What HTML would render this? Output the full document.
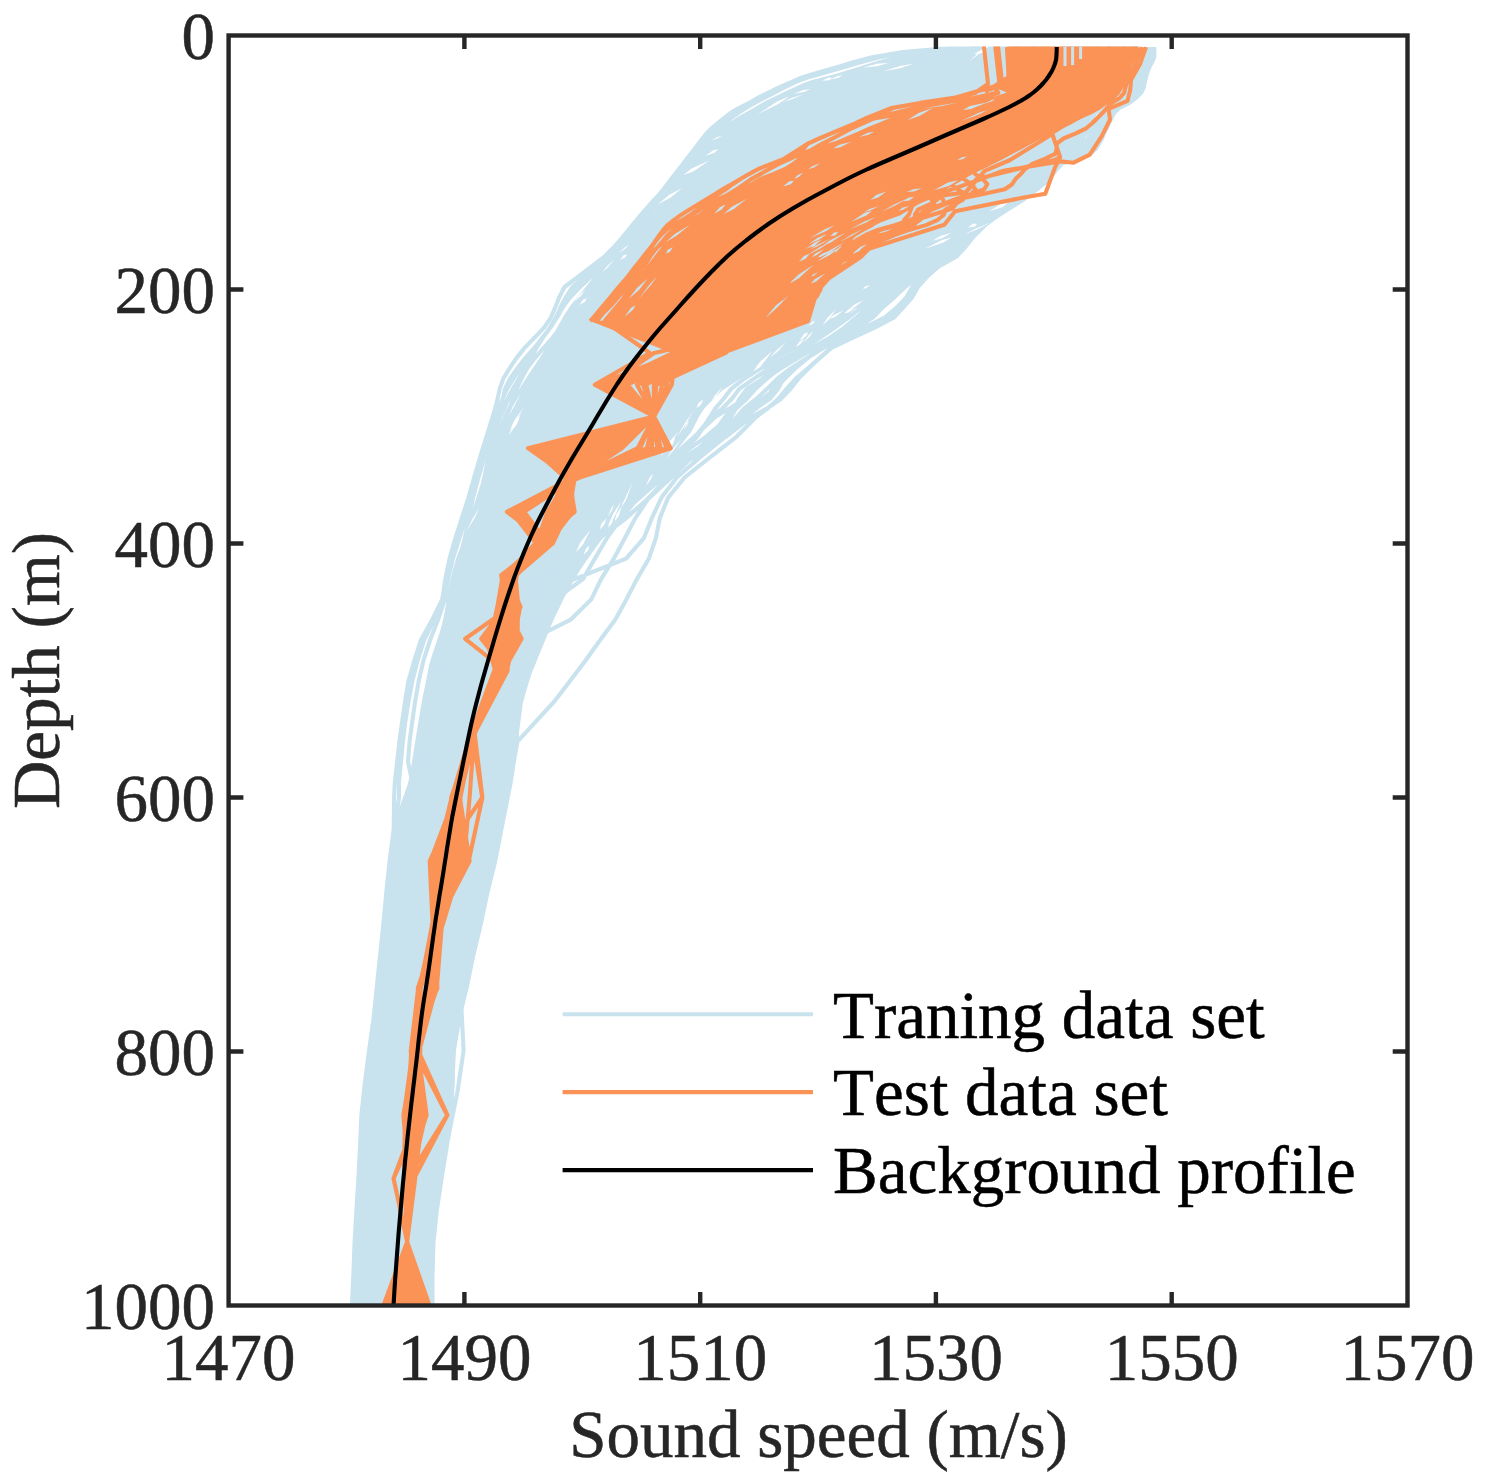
<!DOCTYPE html>
<html><head><meta charset="utf-8"><title>Sound speed profiles</title>
<style>
html,body{margin:0;padding:0;background:#fff;}
body{width:1485px;height:1483px;overflow:hidden;font-family:"Liberation Serif",serif;}
svg{display:block}
text{font-family:"Liberation Serif",serif;font-size:67px;fill:#262626;font-kerning:none;stroke:#262626;stroke-width:0.5px;}
.lg text{fill:#000;stroke:#000}
</style></head><body>
<svg width="1485" height="1483" viewBox="0 0 1485 1483">
<rect width="1485" height="1483" fill="#fff"/>
<defs><clipPath id="c"><rect x="228.6" y="46.6" width="1178.9" height="1258.9"/></clipPath></defs>
<g fill="none" stroke-linejoin="round" stroke-linecap="butt" clip-path="url(#c)">
<path d="M975.0,45.0 970.9,47.0 946.2,50.0 921.5,53.0 900.0,56.0 885.0,59.0 873.8,62.0 864.4,65.0 855.0,68.0 845.1,71.0 835.3,74.0 824.0,77.0 812.0,80.0 803.6,83.0 797.1,86.0 790.5,89.0 784.0,92.0 778.2,95.0 772.5,98.0 766.8,101.0 761.0,104.0 756.1,107.0 751.1,110.0 746.2,113.0 741.3,116.0 736.8,119.0 733.2,122.0 729.5,125.0 725.9,128.0 722.3,131.0 718.6,134.0 715.0,137.0 712.5,140.0 710.1,143.0 707.6,146.0 705.1,149.0 702.7,152.0 700.2,155.0 697.8,158.0 695.3,161.0 692.8,164.0 690.5,167.0 688.2,170.0 685.9,173.0 683.6,176.0 681.3,179.0 679.0,182.0 676.7,185.0 674.4,188.0 672.1,191.0 669.8,194.0 667.2,197.0 664.5,200.0 661.8,203.0 659.1,206.0 656.4,209.0 653.7,212.0 651.0,215.0 648.5,218.0 646.0,221.0 643.6,224.0 641.1,227.0 638.6,230.0 636.1,233.0 633.7,236.0 631.2,239.0 628.7,242.0 626.2,245.0 623.8,248.0 621.3,251.0 618.8,254.0 615.8,257.0 612.6,260.0 609.3,263.0 606.0,266.0 602.8,269.0 599.5,272.0 596.3,275.0 593.0,278.0 590.6,281.0 588.1,284.0 585.7,287.0 583.2,290.0 580.8,293.0 578.3,296.0 575.9,299.0 573.4,302.0 571.0,305.0 569.2,308.0 567.5,311.0 565.7,314.0 564.0,317.0 562.2,320.0 560.5,323.0 558.7,326.0 557.0,329.0 555.2,332.0 553.4,335.0 551.7,338.0 549.9,341.0 548.2,344.0 546.5,347.0 544.8,350.0 543.1,353.0 541.4,356.0 539.7,359.0 538.1,362.0 536.4,365.0 534.7,368.0 533.0,371.0 531.4,374.0 529.7,377.0 528.0,380.0 526.4,383.0 524.8,386.0 523.2,389.0 521.6,392.0 520.1,395.0 518.5,398.0 517.4,400.0 513.2,408.0 508.9,416.0 504.7,424.0 500.7,432.0 498.0,440.0 495.3,448.0 492.6,456.0 489.9,464.0 487.2,472.0 484.5,480.0 481.9,488.0 479.2,496.0 476.6,504.0 473.9,512.0 471.3,520.0 468.6,528.0 465.7,536.0 462.6,544.0 459.5,552.0 456.4,560.0 453.5,568.0 452.0,576.0 450.4,584.0 448.9,592.0 447.4,600.0 445.7,608.0 443.9,616.0 442.1,624.0 439.9,632.0 437.2,640.0 434.5,648.0 431.8,656.0 429.4,664.0 427.8,672.0 426.2,680.0 424.6,688.0 422.9,696.0 421.4,704.0 420.1,712.0 418.7,720.0 417.4,728.0 416.1,736.0 414.8,744.0 413.5,752.0 412.3,760.0 411.0,768.0 409.7,776.0 407.8,784.0 405.0,792.0 402.1,800.0 399.3,808.0 396.4,816.0 394.5,824.0 393.5,832.0 392.5,840.0 391.5,848.0 390.5,856.0 389.6,864.0 388.8,872.0 388.1,880.0 387.3,888.0 386.5,896.0 385.8,904.0 385.0,912.0 384.2,920.0 383.4,928.0 382.6,936.0 381.8,944.0 381.0,952.0 380.1,960.0 379.3,968.0 378.5,976.0 377.7,984.0 376.9,992.0 376.0,1000.0 375.2,1008.0 374.4,1016.0 373.3,1024.0 372.3,1032.0 371.3,1040.0 370.2,1048.0 369.2,1056.0 368.1,1064.0 367.1,1072.0 366.1,1080.0 365.0,1088.0 364.0,1096.0 362.9,1104.0 362.0,1112.0 361.5,1120.0 361.1,1128.0 360.7,1136.0 360.3,1144.0 359.8,1152.0 359.4,1160.0 359.0,1168.0 358.6,1176.0 358.2,1184.0 357.7,1192.0 357.3,1200.0 356.9,1208.0 356.5,1216.0 356.0,1224.0 355.6,1232.0 355.3,1240.0 355.0,1248.0 354.6,1256.0 354.3,1264.0 354.0,1272.0 353.6,1280.0 353.3,1288.0 353.0,1296.0 352.7,1304.0 352.6,1305.4 431.5,1305.4 431.5,1304.0 431.5,1296.0 431.5,1288.0 431.5,1280.0 431.5,1272.0 431.5,1264.0 431.5,1256.0 432.0,1248.0 432.8,1240.0 433.6,1232.0 434.3,1224.0 435.1,1216.0 436.1,1208.0 437.4,1200.0 438.6,1192.0 439.8,1184.0 441.0,1176.0 442.4,1168.0 444.0,1160.0 445.6,1152.0 447.2,1144.0 448.8,1136.0 450.0,1128.0 450.9,1120.0 451.7,1112.0 452.5,1104.0 453.3,1096.0 453.9,1088.0 454.3,1080.0 454.7,1072.0 455.1,1064.0 455.5,1056.0 456.1,1048.0 457.2,1040.0 458.2,1032.0 459.3,1024.0 460.4,1016.0 461.8,1008.0 463.3,1000.0 464.8,992.0 466.2,984.0 467.6,976.0 469.1,968.0 470.8,960.0 473.2,952.0 475.6,944.0 477.3,936.0 478.9,928.0 480.5,920.0 482.0,912.0 483.6,904.0 485.5,896.0 487.5,888.0 489.5,880.0 491.4,872.0 493.4,864.0 495.1,856.0 496.7,848.0 498.3,840.0 499.9,832.0 501.4,824.0 503.0,816.0 504.6,808.0 506.2,800.0 507.8,792.0 509.3,784.0 510.9,776.0 512.5,768.0 514.1,760.0 515.6,752.0 517.2,744.0 518.5,736.0 519.6,728.0 520.6,720.0 521.7,712.0 522.7,704.0 524.8,696.0 527.1,688.0 529.5,680.0 532.2,672.0 535.5,664.0 538.7,656.0 542.0,648.0 545.3,640.0 548.5,632.0 551.8,624.0 555.4,616.0 559.3,608.0 563.1,600.0 567.2,592.0 571.9,584.0 576.7,576.0 581.4,568.0 587.0,560.0 592.7,552.0 598.4,544.0 604.5,536.0 611.1,528.0 617.8,520.0 624.4,512.0 631.0,504.0 637.8,496.0 644.8,488.0 651.8,480.0 658.8,472.0 665.8,464.0 672.1,456.0 678.5,448.0 684.9,440.0 691.2,432.0 695.4,424.0 699.4,416.0 704.7,408.0 712.6,400.0 714.6,398.0 717.5,395.0 720.5,392.0 724.4,389.0 729.2,386.0 733.9,383.0 738.7,380.0 743.5,377.0 748.3,374.0 753.1,371.0 757.8,368.0 764.2,365.0 770.6,362.0 776.9,359.0 783.3,356.0 789.7,353.0 796.1,350.0 802.0,347.0 806.0,344.0 810.1,341.0 814.2,338.0 818.3,335.0 822.4,332.0 826.5,329.0 830.6,326.0 834.4,323.0 838.1,320.0 841.8,317.0 845.5,314.0 849.2,311.0 852.9,308.0 856.7,305.0 860.4,302.0 864.7,299.0 869.4,296.0 874.0,293.0 878.7,290.0 883.4,287.0 888.0,284.0 892.7,281.0 897.3,278.0 902.0,275.0 907.9,272.0 913.9,269.0 919.8,266.0 925.2,263.0 930.2,260.0 935.3,257.0 940.3,254.0 945.3,251.0 950.3,248.0 955.0,245.0 959.5,242.0 964.0,239.0 968.5,236.0 973.0,233.0 977.5,230.0 982.0,227.0 986.2,224.0 990.4,221.0 994.5,218.0 998.6,215.0 1002.9,212.0 1007.1,209.0 1011.4,206.0 1015.7,203.0 1020.0,200.0 1024.1,197.0 1028.3,194.0 1032.4,191.0 1036.6,188.0 1040.7,185.0 1044.9,182.0 1049.0,179.0 1050.9,176.0 1052.9,173.0 1054.8,170.0 1056.7,167.0 1059.2,164.0 1062.8,161.0 1066.4,158.0 1070.0,155.0 1072.4,152.0 1074.7,149.0 1077.1,146.0 1079.5,143.0 1081.8,140.0 1084.2,137.0 1086.1,134.0 1087.7,131.0 1089.3,128.0 1091.0,125.0 1092.6,122.0 1094.2,119.0 1095.8,116.0 1097.5,113.0 1100.8,110.0 1105.1,107.0 1109.3,104.0 1113.6,101.0 1116.6,98.0 1119.1,95.0 1121.5,92.0 1123.9,89.0 1126.4,86.0 1128.4,83.0 1129.7,80.0 1131.0,77.0 1132.3,74.0 1133.6,71.0 1135.1,68.0 1136.6,65.0 1138.2,62.0 1139.8,59.0 1140.0,56.0 1140.0,53.0 1140.0,50.0 1140.0,47.0 1140.0,45.0Z" fill="#c8e2ee"/>
<path d="M979.6,47.1 948.4,52.1 909.9,57.2 886.4,62.3 871.1,67.4 855.8,72.5 836.3,77.5 815.3,82.6 803.2,87.7 790.9,92.8 780.8,97.9 769.9,102.9 760.3,108.0 750.2,113.1 739.6,118.2 732.2,123.3 725.5,128.3 719.4,133.4 713.9,138.5 709.5,143.6 704.9,148.7 700.2,153.7 695.7,158.8 691.4,163.9 687.2,169.0 682.4,174.1 677.7,179.1 673.8,184.2 669.9,189.3 665.4,194.4 660.8,199.5 656.9,204.5 653.1,209.6 649.1,214.7 645.1,219.8 640.7,224.9 640.0,226.0 632.3,236.2 624.6,246.3 616.4,256.5 606.2,266.6 596.6,276.8 589.8,287.0 580.7,297.1 571.6,307.3 565.2,317.4 559.5,327.6 554.0,337.8 548.5,347.9 542.1,358.1 535.1,368.2 528.4,378.4 521.9,388.6 515.1,398.7 508.9,408.9 505.2,416.5 497.1,436.8 491.2,457.1 484.9,477.5 478.4,497.8 472.1,518.1 465.8,538.4 458.1,558.7 452.7,579.1 448.9,599.4 447.1,619.7 444.6,640.0 438.0,660.3 435.2,680.7 431.0,701.0 427.5,721.3 424.0,741.6 420.9,761.9 416.6,782.3 408.4,797.5 394.6,829.2 389.6,861.0 386.3,892.8 383.3,924.5 380.0,956.2 376.7,988.0 373.4,1019.8 368.9,1051.5 364.8,1083.2 361.4,1115.0 360.0,1146.8 358.4,1178.5 356.4,1210.2 354.6,1242.0 353.4,1273.8 351.9,1305.5 M972.2,47.1 934.0,52.1 900.0,57.2 879.8,62.3 866.2,67.4 852.4,72.5 834.2,77.5 813.7,82.6 801.6,87.7 788.6,92.8 777.0,97.9 766.2,102.9 757.5,108.0 748.6,113.1 739.1,118.2 731.9,123.3 724.0,128.3 715.9,133.4 710.0,138.5 706.3,143.6 702.8,148.7 698.6,153.7 693.8,158.8 688.8,163.9 684.5,169.0 681.3,174.1 678.5,179.1 675.1,184.2 671.0,189.3 667.0,194.4 662.6,199.5 658.0,204.5 653.1,209.6 647.9,214.7 643.4,219.8 639.6,224.9 639.3,226.0 631.3,236.2 623.1,246.3 614.2,256.5 602.9,266.6 591.3,276.8 580.1,287.0 570.4,297.1 562.7,307.3 556.8,317.4 550.3,327.6 542.8,337.8 534.3,347.9 525.3,358.1 517.4,368.2 510.1,378.4 505.1,388.6 502.8,398.7 500.7,408.9 498.0,416.5 490.4,436.8 484.4,457.1 478.5,477.5 473.1,497.8 468.7,518.1 464.7,538.4 459.4,558.7 454.3,579.1 450.1,599.4 448.1,619.7 445.4,640.0 439.8,660.3 436.6,680.7 432.0,701.0 428.3,721.3 424.6,741.6 420.9,761.9 416.6,782.3 408.4,797.5 394.6,829.2 389.6,861.0 386.3,892.8 383.3,924.5 380.0,956.2 376.7,988.0 373.4,1019.8 368.9,1051.5 364.8,1083.2 361.4,1115.0 360.0,1146.8 358.4,1178.5 356.4,1210.2 354.6,1242.0 353.4,1273.8 351.9,1305.5 M978.7,47.1 948.4,52.1 909.9,57.2 886.4,62.3 871.1,67.4 855.8,72.5 836.3,77.5 815.3,82.6 803.1,87.7 790.3,92.8 779.0,97.9 766.9,102.9 757.4,108.0 749.0,113.1 740.5,118.2 733.8,123.3 726.2,128.3 718.4,133.4 711.8,138.5 707.2,143.6 703.1,148.7 699.3,153.7 695.4,158.8 691.4,163.9 687.8,169.0 684.7,174.1 681.8,179.1 679.1,184.2 676.2,189.3 673.4,194.4 669.3,199.5 664.5,204.5 659.8,209.6 655.6,214.7 651.8,219.8 647.7,224.9 646.7,226.0 638.5,236.2 630.0,246.3 620.8,256.5 609.2,266.6 598.3,276.8 591.0,287.0 582.0,297.1 573.6,307.3 567.3,317.4 560.5,327.6 552.6,337.8 543.7,347.9 534.9,358.1 527.2,368.2 520.0,378.4 513.7,388.6 508.6,398.7 504.1,408.9 500.4,416.5 493.2,436.8 488.4,457.1 484.3,477.5 479.8,497.8 474.7,518.1 468.9,538.4 461.3,558.7 455.0,579.1 450.7,599.4 449.7,619.7 447.3,640.0 440.1,660.3 436.6,680.7 432.0,701.0 428.3,721.3 424.6,741.6 420.9,761.9 416.6,782.3 408.4,797.5 394.6,829.2 389.6,861.0 386.3,892.8 383.3,924.5 380.0,956.2 376.7,988.0 373.4,1019.8 368.9,1051.5 364.8,1083.2 361.4,1115.0 360.0,1146.8 358.4,1178.5 356.4,1210.2 354.6,1242.0 353.4,1273.8 351.9,1305.5 M960.1,47.1 904.1,52.1 873.9,57.2 857.3,62.3 842.5,67.4 825.3,72.5 807.4,77.5 793.0,82.6 781.2,87.7 770.5,92.8 759.7,97.9 749.2,102.9 738.9,108.0 730.3,113.1 724.0,118.2 717.6,123.3 711.3,128.3 706.4,133.4 702.5,138.5 698.6,143.6 694.7,148.7 690.8,153.7 686.8,158.8 682.9,163.9 679.0,169.0 675.1,174.1 671.2,179.1 667.3,184.2 663.4,189.3 659.2,194.4 654.6,199.5 650.1,204.5 646.3,209.6 642.6,214.7 639.0,219.8 635.4,224.9 634.8,226.0 626.3,236.2 617.3,246.3 607.5,256.5 596.0,266.6 584.2,276.8 572.4,287.0 565.8,297.1 560.6,307.3 556.0,317.4 549.9,327.6 542.8,337.8 536.4,347.9 531.5,358.1 527.2,368.2 521.7,378.4 516.8,388.6 513.0,398.7 509.6,408.9 506.6,416.5 498.0,436.8 491.3,457.1 485.0,477.5 479.0,497.8 472.9,518.1 466.1,538.4 458.3,558.7 452.9,579.1 448.8,599.4 445.8,619.7 440.5,640.0 433.4,660.3 430.0,680.7 426.4,701.0 423.5,721.3 419.9,741.6 416.3,761.9 413.3,782.3 407.0,797.5 394.5,829.2 389.7,861.0 386.4,892.8 383.3,924.5 380.0,956.2 376.8,988.0 373.5,1019.8 369.2,1051.5 365.1,1083.2 361.5,1115.0 360.0,1146.8 358.4,1178.5 356.5,1210.2 354.9,1242.0 353.6,1273.8 352.1,1305.5 M961.3,47.1 908.2,52.1 876.7,57.2 858.0,62.3 841.5,67.4 823.6,72.5 806.8,77.5 794.1,82.6 784.0,87.7 774.0,92.8 764.2,97.9 754.8,102.9 745.9,108.0 738.0,113.1 731.2,118.2 725.3,123.3 719.2,128.3 713.5,133.4 708.6,138.5 704.3,143.6 700.2,148.7 696.5,153.7 692.8,158.8 688.9,163.9 685.0,169.0 681.0,174.1 677.0,179.1 673.0,184.2 669.3,189.3 665.6,194.4 661.0,199.5 656.3,204.5 651.8,209.6 647.4,214.7 643.2,219.8 638.8,224.9 637.3,226.0 628.4,236.2 620.2,246.3 611.3,256.5 599.6,266.6 587.3,276.8 576.2,287.0 569.2,297.1 562.8,307.3 557.1,317.4 550.4,327.6 542.5,337.8 534.8,347.9 527.6,358.1 520.8,368.2 513.4,378.4 507.2,388.6 502.6,398.7 498.4,408.9 495.5,416.5 489.2,436.8 483.4,457.1 477.4,477.5 471.6,497.8 465.5,518.1 459.3,538.4 452.9,558.7 448.2,579.1 444.9,599.4 438.1,619.7 430.1,640.0 423.5,660.3 418.8,680.7 415.2,701.0 412.3,721.3 409.6,741.6 408.0,761.9 412.3,782.3 408.4,797.5 394.6,829.2 389.6,861.0 386.3,892.8 383.3,924.5 380.0,956.2 376.7,988.0 373.4,1019.8 369.0,1051.5 364.9,1083.2 361.4,1115.0 360.0,1146.8 358.4,1178.5 356.5,1210.2 354.7,1242.0 353.5,1273.8 352.0,1305.5 M961.5,47.1 909.9,52.1 879.5,57.2 860.6,62.3 843.6,67.4 825.3,72.5 807.5,77.5 793.4,82.6 782.3,87.7 772.4,92.8 762.9,97.9 753.3,102.9 743.8,108.0 734.6,113.1 726.8,118.2 719.8,123.3 713.4,128.3 708.0,133.4 703.7,138.5 699.9,143.6 696.3,148.7 692.4,153.7 688.5,158.8 684.7,163.9 681.1,169.0 677.5,174.1 673.8,179.1 669.9,184.2 666.1,189.3 662.1,194.4 657.6,199.5 652.9,204.5 648.2,209.6 644.1,214.7 640.3,219.8 636.4,224.9 635.7,226.0 627.2,236.2 618.8,246.3 609.4,256.5 597.7,266.6 586.2,276.8 575.4,287.0 568.2,297.1 562.0,307.3 556.8,317.4 550.3,327.6 542.3,337.8 534.8,347.9 529.2,358.1 524.7,368.2 519.0,378.4 513.0,388.6 507.6,398.7 502.8,408.9 499.2,416.5 491.1,436.8 484.4,457.1 478.1,477.5 472.1,497.8 465.4,518.1 458.5,538.4 451.8,558.7 446.9,579.1 443.4,599.4 434.3,619.7 424.1,640.0 417.7,660.3 412.4,680.7 408.6,701.0 405.4,721.3 402.9,741.6 401.0,761.9 398.9,782.3 399.0,797.5 394.6,829.2 389.6,861.0 386.3,892.8 383.3,924.5 380.0,956.2 376.7,988.0 373.4,1019.8 368.9,1051.5 364.8,1083.2 361.4,1115.0 360.0,1146.8 358.4,1178.5 356.4,1210.2 354.6,1242.0 353.4,1273.8 351.9,1305.5 M959.5,47.1 903.0,52.1 872.0,57.2 853.3,62.3 836.2,67.4 818.2,72.5 802.0,77.5 790.0,82.6 778.7,87.7 767.9,92.8 757.6,97.9 749.1,102.9 740.8,108.0 733.2,113.1 726.6,118.2 720.2,123.3 713.6,128.3 708.2,133.4 704.0,138.5 700.3,143.6 696.4,148.7 692.2,153.7 687.7,158.8 683.2,163.9 679.0,169.0 675.1,174.1 671.3,179.1 667.6,184.2 663.7,189.3 659.3,194.4 654.6,199.5 650.0,204.5 645.5,209.6 641.1,214.7 636.8,219.8 632.6,224.9 631.7,226.0 623.2,236.2 614.7,246.3 604.5,256.5 591.4,266.6 577.9,276.8 564.5,287.0 559.3,297.1 555.3,307.3 551.0,317.4 544.1,327.6 534.3,337.8 524.6,347.9 516.4,358.1 509.7,368.2 503.4,378.4 499.8,388.6 497.6,398.7 495.0,408.9 492.7,416.5 486.4,436.8 480.1,457.1 474.1,477.5 468.4,497.8 461.8,518.1 455.3,538.4 449.5,558.7 445.3,579.1 442.3,599.4 432.2,619.7 420.9,640.0 414.4,660.3 408.5,680.7 405.1,701.0 402.2,721.3 399.4,741.6 397.1,761.9 394.8,782.3 394.1,797.5 393.7,829.2 389.6,861.0 386.3,892.8 383.3,924.5 380.0,956.2 376.7,988.0 373.4,1019.8 368.9,1051.5 364.8,1083.2 361.4,1115.0 360.0,1146.8 358.4,1178.5 356.4,1210.2 354.6,1242.0 353.4,1273.8 351.9,1305.5 M1138.7,47.1 1138.2,52.1 1137.9,57.2 1136.0,62.3 1133.2,67.4 1130.4,72.5 1127.9,77.5 1125.2,82.6 1120.2,87.7 1115.4,92.8 1112.0,97.9 1106.7,102.9 1100.4,108.0 1094.3,113.1 1091.4,118.2 1087.5,123.3 1083.5,128.3 1080.7,133.4 1077.5,138.5 1072.4,143.6 1066.7,148.7 1062.6,153.7 1061.4,158.8 1058.4,163.9 1054.8,169.0 1051.9,174.1 1048.9,179.1 1041.4,184.2 1034.4,189.3 1027.4,194.4 1020.5,199.5 1013.4,204.5 1006.2,209.6 999.0,214.7 992.1,219.8 985.0,224.9 983.5,226.0 968.7,236.2 953.0,246.3 935.4,256.5 919.3,266.6 902.3,276.8 887.5,287.0 870.9,297.1 853.9,307.3 838.4,317.4 825.2,327.6 813.9,337.8 803.1,347.9 786.3,358.1 769.7,368.2 754.4,378.4 739.7,388.6 731.9,398.7 722.0,408.9 711.9,416.5 694.8,436.8 676.7,457.1 655.6,477.5 626.7,497.8 594.1,518.1 569.5,538.4 550.7,558.7 536.9,579.1 523.8,599.4 513.2,619.7 507.9,640.0 502.8,660.3 499.9,680.7 500.9,701.0 509.6,721.3 516.7,741.6 513.8,761.9 510.7,782.3 507.7,797.5 501.4,829.2 495.2,861.0 487.4,892.8 480.7,924.5 473.1,956.2 466.6,988.0 458.5,1019.8 451.0,1051.5 451.3,1083.2 450.3,1115.0 446.7,1146.8 441.6,1178.5 436.8,1210.2 433.5,1242.0 432.5,1273.8 432.5,1305.5 M1142.0,47.1 1142.0,52.1 1141.7,57.2 1139.0,62.3 1135.5,67.4 1132.6,72.5 1130.4,77.5 1128.6,82.6 1124.3,87.7 1118.3,92.8 1113.6,97.9 1108.1,102.9 1101.3,108.0 1094.6,113.1 1091.7,118.2 1089.5,123.3 1087.8,128.3 1085.8,133.4 1082.9,138.5 1079.2,143.6 1075.3,148.7 1072.0,153.7 1066.9,158.8 1059.9,163.9 1056.0,169.0 1052.5,174.1 1048.7,179.1 1042.5,184.2 1035.6,189.3 1029.0,194.4 1022.1,199.5 1014.5,204.5 1006.7,209.6 999.2,214.7 992.0,219.8 985.3,224.9 983.7,226.0 970.3,236.2 957.8,246.3 944.5,256.5 926.9,266.6 911.1,276.8 898.9,287.0 887.0,297.1 872.8,307.3 859.7,317.4 845.3,327.6 829.7,337.8 811.9,347.9 791.5,358.1 773.6,368.2 762.4,378.4 753.1,388.6 744.2,398.7 729.0,408.9 715.7,416.5 694.2,436.8 672.1,457.1 653.2,477.5 634.8,497.8 614.2,518.1 584.5,538.4 554.1,558.7 536.9,579.1 523.8,599.4 513.2,619.7 507.9,640.0 502.8,660.3 501.4,680.7 502.6,701.0 510.7,721.3 516.8,741.6 513.8,761.9 510.6,782.3 507.7,797.5 501.4,829.2 495.2,861.0 487.4,892.8 480.6,924.5 473.0,956.2 466.5,988.0 458.6,1019.8 451.5,1051.5 451.9,1083.2 450.6,1115.0 446.7,1146.8 441.6,1178.5 436.7,1210.2 433.2,1242.0 431.9,1273.8 431.9,1305.5 M1146.0,47.1 1145.9,52.1 1146.3,57.2 1144.4,62.3 1141.3,67.4 1138.5,72.5 1136.4,77.5 1135.0,82.6 1133.0,87.7 1129.6,92.8 1124.8,97.9 1118.6,102.9 1109.3,108.0 1101.7,113.1 1097.2,118.2 1092.9,123.3 1089.3,128.3 1086.1,133.4 1082.3,138.5 1077.2,143.6 1072.0,148.7 1067.9,153.7 1064.2,158.8 1059.2,163.9 1055.5,169.0 1052.2,174.1 1048.8,179.1 1041.6,184.2 1034.6,189.3 1027.7,194.4 1021.0,199.5 1013.9,204.5 1006.6,209.6 999.2,214.7 992.0,219.8 985.3,224.9 983.8,226.0 970.5,236.2 958.3,246.3 944.5,256.5 925.7,266.6 907.5,276.8 893.0,287.0 882.6,297.1 875.7,307.3 867.8,317.4 850.3,327.6 831.2,337.8 813.1,347.9 794.0,358.1 776.6,368.2 764.7,378.4 755.1,388.6 745.9,398.7 732.8,408.9 725.6,416.5 710.9,436.8 690.1,457.1 669.1,477.5 648.7,497.8 626.5,518.1 599.2,538.4 569.0,558.7 548.1,579.1 540.9,599.4 535.3,619.7 526.3,640.0 513.8,660.3 504.5,680.7 502.5,701.0 510.2,721.3 516.8,741.6 513.8,761.9 510.6,782.3 507.7,797.5 501.4,829.2 495.2,861.0 487.4,892.8 480.7,924.5 473.1,956.2 466.5,988.0 458.5,1019.8 451.0,1051.5 451.6,1083.2 450.7,1115.0 446.7,1146.8 441.2,1178.5 436.5,1210.2 433.2,1242.0 432.1,1273.8 432.0,1305.5 M1144.3,47.1 1143.7,52.1 1143.4,57.2 1141.4,62.3 1138.9,67.4 1136.5,72.5 1134.3,77.5 1131.8,82.6 1128.7,87.7 1125.5,92.8 1121.6,97.9 1115.9,102.9 1107.5,108.0 1100.6,113.1 1097.5,118.2 1095.0,123.3 1092.6,128.3 1090.5,133.4 1088.2,138.5 1085.0,143.6 1081.4,148.7 1077.1,153.7 1068.6,158.8 1060.1,163.9 1056.0,169.0 1052.4,174.1 1048.7,179.1 1042.3,184.2 1035.3,189.3 1028.4,194.4 1021.4,199.5 1014.0,204.5 1006.5,209.6 999.1,214.7 992.0,219.8 985.1,224.9 983.5,226.0 968.0,236.2 951.6,246.3 933.9,256.5 917.5,266.6 898.8,276.8 882.7,287.0 866.2,297.1 853.6,307.3 843.0,317.4 831.0,327.6 817.3,337.8 804.0,347.9 787.2,358.1 774.3,368.2 765.0,378.4 754.0,388.6 744.6,398.7 735.7,408.9 731.3,416.5 716.7,436.8 693.8,457.1 663.6,477.5 638.7,497.8 613.6,518.1 583.4,538.4 564.9,558.7 548.0,579.1 532.5,599.4 521.9,619.7 517.7,640.0 513.8,660.3 509.6,680.7 507.9,701.0 513.3,721.3 517.0,741.6 513.8,761.9 510.4,782.3 507.5,797.5 501.4,829.2 495.2,861.0 487.4,892.8 480.7,924.5 473.1,956.2 466.6,988.0 458.5,1019.8 451.0,1051.5 451.3,1083.2 450.3,1115.0 446.7,1146.8 441.6,1178.5 436.8,1210.2 433.5,1242.0 432.5,1273.8 432.5,1305.5 M1148.6,47.1 1148.6,52.1 1147.7,57.2 1144.7,62.3 1141.6,67.4 1139.1,72.5 1136.6,77.5 1133.9,82.6 1130.4,87.7 1126.2,92.8 1121.4,97.9 1115.4,102.9 1107.6,108.0 1101.5,113.1 1098.6,118.2 1095.9,123.3 1094.1,128.3 1092.9,133.4 1090.7,138.5 1087.2,143.6 1082.9,148.7 1078.9,153.7 1070.6,158.8 1060.9,163.9 1056.6,169.0 1052.6,174.1 1048.7,179.1 1042.7,184.2 1035.7,189.3 1028.8,194.4 1022.0,199.5 1014.6,204.5 1006.9,209.6 999.2,214.7 992.0,219.8 985.3,224.9 983.7,226.0 969.6,236.2 956.1,246.3 942.8,256.5 926.3,266.6 909.8,276.8 895.6,287.0 882.9,297.1 872.2,307.3 863.8,317.4 849.3,327.6 831.6,337.8 814.7,347.9 797.9,358.1 781.0,368.2 765.7,378.4 752.5,388.6 745.2,398.7 735.8,408.9 727.2,416.5 711.7,436.8 692.5,457.1 671.2,477.5 649.5,497.8 625.4,518.1 598.1,538.4 570.2,558.7 545.7,579.1 536.8,599.4 532.9,619.7 533.4,640.0 530.9,660.3 523.4,680.7 515.9,701.0 515.5,721.3 517.2,741.6 513.7,761.9 510.3,782.3 507.3,797.5 501.0,829.2 494.8,861.0 487.1,892.8 480.5,924.5 472.8,956.2 466.2,988.0 459.1,1019.8 453.4,1051.5 452.7,1083.2 450.8,1115.0 446.7,1146.8 441.2,1178.5 436.3,1210.2 433.1,1242.0 432.2,1273.8 432.4,1305.5 M1144.7,47.1 1145.6,52.1 1146.5,57.2 1144.8,62.3 1142.1,67.4 1139.7,72.5 1137.3,77.5 1133.8,82.6 1129.5,87.7 1126.4,92.8 1124.1,97.9 1119.3,102.9 1110.7,108.0 1104.1,113.1 1100.6,118.2 1097.6,123.3 1095.6,128.3 1093.9,133.4 1091.0,138.5 1086.9,143.6 1083.2,148.7 1079.1,153.7 1069.6,158.8 1060.4,163.9 1056.2,169.0 1052.5,174.1 1048.7,179.1 1042.6,184.2 1035.6,189.3 1028.5,194.4 1021.4,199.5 1013.8,204.5 1006.4,209.6 999.1,214.7 992.0,219.8 985.1,224.9 983.6,226.0 969.1,236.2 955.2,246.3 941.1,256.5 925.7,266.6 912.5,276.8 902.7,287.0 893.8,297.1 882.8,307.3 873.1,317.4 857.9,327.6 839.7,337.8 821.4,347.9 807.4,358.1 795.4,368.2 785.3,378.4 775.1,388.6 762.8,398.7 748.5,408.9 738.3,416.5 719.7,436.8 694.2,457.1 662.6,477.5 634.1,497.8 604.7,518.1 574.8,538.4 559.0,558.7 546.1,579.1 533.3,599.4 526.7,619.7 523.6,640.0 515.0,660.3 506.5,680.7 503.5,701.0 510.2,721.3 516.7,741.6 513.8,761.9 510.7,782.3 507.7,797.5 501.4,829.2 495.2,861.0 487.4,892.8 480.7,924.5 473.1,956.2 466.6,988.0 458.5,1019.8 451.0,1051.5 451.3,1083.2 450.3,1115.0 446.7,1146.8 441.6,1178.5 436.8,1210.2 433.5,1242.0 432.5,1273.8 432.5,1305.5 M1146.7,47.1 1146.1,52.1 1146.4,57.2 1145.2,62.3 1143.2,67.4 1141.3,72.5 1139.3,77.5 1137.4,82.6 1135.6,87.7 1133.4,92.8 1129.3,97.9 1123.4,102.9 1114.5,108.0 1109.8,113.1 1108.2,118.2 1105.6,123.3 1102.5,128.3 1100.0,133.4 1097.4,138.5 1094.1,143.6 1090.4,148.7 1085.5,153.7 1073.3,158.8 1061.4,163.9 1056.9,169.0 1052.8,174.1 1048.7,179.1 1043.2,184.2 1036.4,189.3 1029.3,194.4 1022.0,199.5 1014.2,204.5 1006.6,209.6 999.1,214.7 992.0,219.8 985.3,224.9 983.7,226.0 970.1,236.2 956.7,246.3 940.4,256.5 921.6,266.6 904.1,276.8 891.7,287.0 879.9,297.1 867.4,307.3 856.5,317.4 844.4,327.6 829.9,337.8 814.3,347.9 798.0,358.1 780.7,368.2 763.5,378.4 747.3,388.6 739.5,398.7 734.3,408.9 729.7,416.5 705.9,436.8 677.7,457.1 653.2,477.5 629.3,497.8 603.1,518.1 573.4,538.4 551.2,558.7 536.9,579.1 523.8,599.4 513.2,619.7 507.9,640.0 502.8,660.3 499.9,680.7 500.9,701.0 509.6,721.3 516.7,741.6 513.8,761.9 510.7,782.3 507.6,797.5 501.3,829.2 495.2,861.0 487.4,892.8 480.6,924.5 473.1,956.2 466.6,988.0 458.5,1019.8 451.6,1051.5 451.9,1083.2 450.6,1115.0 446.7,1146.8 441.3,1178.5 436.6,1210.2 433.4,1242.0 432.4,1273.8 432.3,1305.5 M1150.9,47.1 1149.8,52.1 1149.5,57.2 1147.9,62.3 1146.4,67.4 1145.8,72.5 1145.0,77.5 1142.6,82.6 1140.0,87.7 1137.2,92.8 1133.3,97.9 1128.4,102.9 1118.7,108.0 1112.6,113.1 1108.7,118.2 1105.2,123.3 1103.0,128.3 1101.8,133.4 1100.2,138.5 1097.5,143.6 1094.3,148.7 1090.0,153.7 1075.5,158.8 1061.7,163.9 1057.0,169.0 1052.8,174.1 1048.6,179.1 1043.5,184.2 1036.9,189.3 1030.1,194.4 1023.3,199.5 1015.7,204.5 1007.6,209.6 999.4,214.7 992.0,219.8 985.6,224.9 984.2,226.0 974.0,236.2 965.9,246.3 956.6,256.5 938.4,266.6 927.0,276.8 918.0,287.0 912.3,297.1 901.8,307.3 888.1,317.4 864.9,327.6 842.0,337.8 822.3,347.9 807.0,358.1 791.0,368.2 777.6,378.4 767.4,388.6 756.5,398.7 743.7,408.9 737.3,416.5 718.3,436.8 684.2,457.1 655.0,477.5 627.1,497.8 595.7,518.1 569.5,538.4 550.7,558.7 536.9,579.1 523.8,599.4 513.2,619.7 507.9,640.0 502.8,660.3 499.9,680.7 500.9,701.0 509.6,721.3 516.7,741.6 513.8,761.9 510.7,782.3 507.7,797.5 501.4,829.2 495.2,861.0 487.3,892.8 480.5,924.5 473.0,956.2 466.5,988.0 458.5,1019.8 451.0,1051.5 451.3,1083.2 450.3,1115.0 446.7,1146.8 441.5,1178.5 436.5,1210.2 433.3,1242.0 432.3,1273.8 432.4,1305.5 M1145.5,47.1 1145.2,52.1 1145.1,57.2 1143.8,62.3 1141.7,67.4 1139.3,72.5 1137.3,77.5 1136.0,82.6 1134.3,87.7 1131.9,92.8 1129.1,97.9 1125.1,102.9 1116.3,108.0 1110.5,113.1 1107.6,118.2 1105.1,123.3 1103.4,128.3 1101.6,133.4 1099.1,138.5 1097.0,143.6 1094.7,148.7 1088.3,153.7 1073.1,158.8 1061.0,163.9 1056.7,169.0 1052.8,174.1 1048.7,179.1 1043.2,184.2 1036.2,189.3 1029.3,194.4 1022.5,199.5 1015.1,204.5 1007.2,209.6 999.3,214.7 992.0,219.8 985.5,224.9 984.0,226.0 972.0,236.2 962.3,246.3 952.3,256.5 934.6,266.6 921.7,276.8 912.2,287.0 906.6,297.1 896.9,307.3 885.1,317.4 864.4,327.6 843.3,337.8 823.4,347.9 807.2,358.1 792.4,368.2 783.6,378.4 778.2,388.6 770.0,398.7 755.0,408.9 741.3,416.5 719.6,436.8 688.1,457.1 661.7,477.5 639.8,497.8 616.3,518.1 586.5,538.4 557.4,558.7 544.1,579.1 533.2,599.4 527.3,619.7 525.5,640.0 521.6,660.3 516.5,680.7 512.5,701.0 514.5,721.3 517.1,741.6 513.7,761.9 510.3,782.3 507.4,797.5 501.0,829.2 494.8,861.0 487.1,892.8 480.6,924.5 473.0,956.2 466.5,988.0 458.6,1019.8 451.0,1051.5 451.3,1083.2 450.3,1115.0 446.7,1146.8 441.6,1178.5 436.8,1210.2 433.5,1242.0 432.5,1273.8 432.5,1305.5 M1149.4,47.1 1149.3,52.1 1149.7,57.2 1148.8,62.3 1147.2,67.4 1145.4,72.5 1144.1,77.5 1142.5,82.6 1141.1,87.7 1139.3,92.8 1135.5,97.9 1129.4,102.9 1119.3,108.0 1114.0,113.1 1111.1,118.2 1107.4,123.3 1104.8,128.3 1103.9,133.4 1102.0,138.5 1099.0,143.6 1096.0,148.7 1090.0,153.7 1074.0,158.8 1061.3,163.9 1056.9,169.0 1052.8,174.1 1048.6,179.1 1043.4,184.2 1036.7,189.3 1030.1,194.4 1023.4,199.5 1015.7,204.5 1007.5,209.6 999.4,214.7 992.0,219.8 985.6,224.9 984.2,226.0 974.0,236.2 965.9,246.3 956.6,256.5 938.4,266.6 927.0,276.8 918.0,287.0 912.3,297.1 903.3,307.3 894.2,317.4 874.6,327.6 852.4,337.8 831.5,347.9 819.7,358.1 808.8,368.2 798.6,378.4 790.8,388.6 781.1,398.7 766.4,408.9 752.1,416.5 725.8,436.8 692.2,457.1 663.1,477.5 638.4,497.8 613.3,518.1 581.9,538.4 552.7,558.7 536.9,579.1 523.8,599.4 513.2,619.7 509.1,640.0 506.5,660.3 501.3,680.7 500.9,701.0 509.6,721.3 516.7,741.6 513.8,761.9 510.6,782.3 507.6,797.5 501.3,829.2 495.1,861.0 487.4,892.8 480.6,924.5 472.9,956.2 466.2,988.0 459.2,1019.8 453.5,1051.5 452.6,1083.2 450.8,1115.0 446.7,1146.8 440.9,1178.5 436.1,1210.2 432.9,1242.0 431.9,1273.8 431.8,1305.5 M1142.9,47.1 1142.9,52.1 1142.1,57.2 1139.6,62.3 1137.0,67.4 1135.2,72.5 1133.7,77.5 1132.2,82.6 1129.6,87.7 1126.1,92.8 1121.8,97.9 1115.5,102.9 1107.5,108.0 1101.9,113.1 1099.6,118.2 1096.7,123.3 1094.0,128.3 1091.6,133.4 1088.1,138.5 1083.8,143.6 1080.3,148.7 1077.2,153.7 1069.2,158.8 1060.3,163.9 1056.1,169.0 1052.4,174.1 1048.8,179.1 1042.3,184.2 1035.4,189.3 1028.5,194.4 1021.6,199.5 1014.2,204.5 1006.7,209.6 999.1,214.7 992.0,219.8 985.2,224.9 983.6,226.0 969.4,236.2 955.8,246.3 941.0,256.5 923.4,266.6 905.7,276.8 890.7,287.0 875.5,297.1 861.3,307.3 848.8,317.4 834.9,327.6 819.9,337.8 804.9,347.9 783.5,358.1 760.9,368.2 744.6,378.4 731.5,388.6 723.6,398.7 715.0,408.9 710.4,416.5 697.0,436.8 677.6,457.1 657.3,477.5 638.1,497.8 621.5,518.1 606.7,538.4 594.8,558.7 583.0,579.1 555.0,599.4 520.9,619.7 507.9,640.0 502.8,660.3 499.9,680.7 500.9,701.0 509.6,721.3 516.7,741.6 513.8,761.9 510.7,782.3 507.7,797.5 501.4,829.2 495.2,861.0 487.4,892.8 480.7,924.5 473.1,956.2 466.6,988.0 458.5,1019.8 451.5,1051.5 451.7,1083.2 450.4,1115.0 446.7,1146.8 441.5,1178.5 436.7,1210.2 433.5,1242.0 432.4,1273.8 432.4,1305.5 M1147.2,47.1 1147.7,52.1 1147.9,57.2 1145.3,62.3 1141.7,67.4 1138.9,72.5 1137.3,77.5 1136.4,82.6 1135.3,87.7 1132.5,92.8 1127.6,97.9 1121.4,102.9 1112.5,108.0 1106.6,113.1 1103.9,118.2 1100.8,123.3 1097.9,128.3 1095.9,133.4 1093.4,138.5 1089.9,143.6 1086.0,148.7 1081.4,153.7 1071.0,158.8 1060.7,163.9 1056.3,169.0 1052.5,174.1 1048.7,179.1 1042.5,184.2 1035.6,189.3 1028.8,194.4 1022.1,199.5 1014.7,204.5 1006.9,209.6 999.2,214.7 992.0,219.8 985.4,224.9 983.8,226.0 971.0,236.2 958.8,246.3 945.4,256.5 928.1,266.6 913.0,276.8 900.0,287.0 888.3,297.1 877.3,307.3 867.7,317.4 852.2,327.6 833.7,337.8 815.1,347.9 797.0,358.1 780.2,368.2 767.2,378.4 755.7,388.6 746.9,398.7 735.7,408.9 727.1,416.5 710.9,436.8 689.7,457.1 667.1,477.5 648.8,497.8 635.3,518.1 624.7,538.4 613.8,558.7 601.1,579.1 591.3,599.4 570.6,619.7 530.5,640.0 502.8,660.3 499.9,680.7 500.9,701.0 509.6,721.3 516.7,741.6 513.8,761.9 510.7,782.3 507.7,797.5 501.4,829.2 495.2,861.0 487.4,892.8 480.7,924.5 473.1,956.2 466.6,988.0 458.5,1019.8 451.0,1051.5 451.4,1083.2 450.3,1115.0 446.7,1146.8 441.6,1178.5 436.8,1210.2 433.5,1242.0 432.4,1273.8 432.3,1305.5 M1151.5,47.1 1151.5,52.1 1151.1,57.2 1148.3,62.3 1145.2,67.4 1142.7,72.5 1140.9,77.5 1139.1,82.6 1136.3,87.7 1132.3,92.8 1126.9,97.9 1120.1,102.9 1111.4,108.0 1105.9,113.1 1103.5,118.2 1100.8,123.3 1098.2,128.3 1095.8,133.4 1093.4,138.5 1091.3,143.6 1089.3,148.7 1084.8,153.7 1072.3,158.8 1061.0,163.9 1056.6,169.0 1052.7,174.1 1048.7,179.1 1043.1,184.2 1036.3,189.3 1029.4,194.4 1022.6,199.5 1015.0,204.5 1007.2,209.6 999.3,214.7 992.0,219.8 985.4,224.9 984.0,226.0 972.3,236.2 962.2,246.3 950.4,256.5 932.0,266.6 917.5,276.8 905.2,287.0 894.5,297.1 882.9,307.3 872.2,317.4 855.6,327.6 837.9,337.8 820.8,347.9 806.8,358.1 792.5,368.2 780.1,378.4 772.5,388.6 767.0,398.7 755.8,408.9 745.6,416.5 725.3,436.8 700.2,457.1 676.8,477.5 661.3,497.8 651.9,518.1 643.7,538.4 626.1,558.7 574.5,579.1 523.8,599.4 513.2,619.7 510.7,640.0 506.1,660.3 501.5,680.7 500.9,701.0 509.6,721.3 516.7,741.6 513.8,761.9 510.7,782.3 507.7,797.5 501.4,829.2 495.2,861.0 487.4,892.8 480.7,924.5 473.1,956.2 466.6,988.0 458.5,1019.8 451.0,1051.5 451.3,1083.2 450.3,1115.0 446.7,1146.8 441.6,1178.5 436.8,1210.2 433.5,1242.0 432.5,1273.8 432.5,1305.5 M1154.3,47.1 1154.3,52.1 1154.3,57.2 1152.0,62.3 1149.3,67.4 1147.3,72.5 1145.9,77.5 1144.7,82.6 1143.7,87.7 1141.2,92.8 1135.9,97.9 1129.4,102.9 1119.3,108.0 1114.0,113.1 1111.4,118.2 1108.9,123.3 1106.7,128.3 1104.0,133.4 1100.5,138.5 1096.8,143.6 1093.0,148.7 1087.6,153.7 1074.0,158.8 1061.4,163.9 1056.9,169.0 1052.8,174.1 1048.6,179.1 1043.4,184.2 1036.5,189.3 1029.7,194.4 1022.8,199.5 1015.2,204.5 1007.3,209.6 999.4,214.7 992.0,219.8 985.6,224.9 984.1,226.0 973.2,236.2 964.2,246.3 954.5,256.5 936.3,266.6 923.8,276.8 914.1,287.0 909.1,297.1 902.2,307.3 893.6,317.4 873.0,327.6 850.9,337.8 830.9,347.9 819.5,358.1 808.0,368.2 796.1,378.4 786.8,388.6 778.4,398.7 767.1,408.9 756.6,416.5 736.4,436.8 710.3,457.1 684.5,477.5 668.1,497.8 659.8,518.1 655.8,538.4 648.8,558.7 636.9,579.1 626.4,599.4 615.2,619.7 600.2,640.0 585.7,660.3 570.2,680.7 554.7,701.0 536.0,721.3 517.4,741.6 513.8,761.9 510.7,782.3 507.7,797.5 501.4,829.2 495.2,861.0 487.4,892.8 480.7,924.5 473.1,956.2 466.6,988.0 458.6,1019.8 451.2,1051.5 451.3,1083.2 450.3,1115.0 446.7,1146.8 441.6,1178.5 436.7,1210.2 433.4,1242.0 432.3,1273.8 432.3,1305.5 M458.0,980.0 461.5,1010.0 463.6,1050.5 457.6,1090.9 447.5,1141.5 440.0,1175.0" stroke="#c8e2ee" stroke-width="4.1"/>
<path d="M813.3,331.0L808.7,335.3L802.9,343.4L809.9,336.3ZM606.5,517.9L601.3,523.8L599.9,529.3L604.0,525.3ZM681.8,438.6L672.4,449.6L666.1,458.7L673.4,450.4ZM843.8,310.2L833.6,314.9L829.7,318.8L835.0,317.1ZM815.0,320.6L812.0,321.9L808.6,326.1L813.3,323.4ZM590.3,530.1L580.2,542.7L576.0,552.3L583.0,544.6ZM951.6,237.6L942.2,239.9L924.3,248.9L943.3,242.6ZM772.5,351.1L759.8,361.9L755.9,368.4L762.2,364.2ZM627.8,495.7L623.7,500.9L621.7,505.8L625.1,501.7ZM653.2,473.4L649.5,477.8L645.7,486.2L651.2,478.7ZM722.9,386.6L714.9,395.3L711.4,401.1L716.1,396.3ZM615.7,512.2L609.6,522.1L608.3,527.9L611.9,523.2ZM870.0,285.1L865.2,286.6L862.9,288.8L866.0,288.2ZM675.3,437.0L670.4,442.4L668.0,449.4L672.9,443.9ZM977.0,224.0L973.3,223.6L967.9,227.5L974.5,226.8ZM854.7,307.3L848.2,309.6L844.0,313.7L849.6,312.0ZM805.1,337.7L798.8,342.5L795.7,347.3L800.4,344.1ZM689.0,420.7L686.7,423.4L683.3,430.4L687.8,424.1ZM692.9,411.4L684.9,423.0L676.5,438.0L686.1,423.8ZM785.9,342.2L776.2,350.4L769.9,357.8L777.5,351.7ZM836.0,309.2L827.5,317.7L822.3,325.8L829.2,319.2ZM703.5,399.2L698.5,403.1L696.4,407.9L700.7,404.9ZM678.6,431.1L665.1,447.0L660.8,455.4L667.5,448.8ZM768.4,356.4L757.9,364.6L753.4,371.3L760.2,366.9ZM951.7,232.8L941.0,235.7L932.4,240.7L942.0,238.2ZM621.5,506.5L616.0,514.7L614.8,521.2L618.9,516.0ZM1007.6,202.9L1000.9,204.1L989.3,211.2L1002.3,207.2ZM632.9,481.9L625.9,496.2L621.5,508.1L627.2,496.8ZM613.9,504.2L610.6,509.4L607.9,516.9L612.1,510.1ZM863.9,299.9L854.5,304.5L848.6,309.6L855.7,306.5ZM589.3,545.7L586.0,548.5L583.4,555.2L588.3,549.9ZM621.3,501.3L613.6,513.1L607.7,526.3L615.6,514.2ZM991.0,222.5L975.8,228.6L964.8,234.3L976.3,229.8ZM808.1,332.3L804.0,334.0L799.4,340.5L806.2,336.3ZM888.9,62.7L876.8,63.8L862.8,67.7L877.2,66.2ZM520.5,415.2L514.1,422.9L508.3,435.5L516.8,424.5ZM479.6,507.6L473.1,517.7L466.1,531.8L474.4,518.5ZM585.8,289.4L579.2,295.6L574.6,301.6L580.3,296.5ZM614.9,259.1L606.3,267.0L602.5,271.9L607.2,267.9ZM629.4,244.2L624.4,247.7L618.7,253.5L625.2,248.7ZM721.8,135.8L717.6,137.0L711.1,140.6L718.1,138.2ZM682.1,188.0L669.4,194.7L657.9,204.2L671.1,197.2ZM523.5,407.4L514.2,420.8L509.4,430.7L515.9,421.9ZM586.4,298.3L583.2,299.4L579.5,305.0L585.3,301.5ZM627.3,254.0L623.3,255.6L620.1,260.0L625.0,257.6ZM832.0,77.9L828.5,77.4L822.4,80.8L829.4,80.3ZM709.9,160.3L691.6,168.5L683.4,174.9L693.2,171.4ZM718.3,149.2L713.3,150.3L705.0,156.0L714.5,152.7ZM995.0,40.0L985.4,46.5L968.5,61.8L986.7,48.2ZM842.4,75.3L837.3,75.9L830.5,79.3L838.0,77.9ZM914.4,63.7L895.7,67.3L883.6,71.2L896.1,69.0ZM810.7,89.0L803.4,89.9L793.5,93.8L803.9,92.0ZM789.5,96.0L777.2,101.6L757.3,114.4L778.4,103.9ZM911.2,63.9L899.6,65.9L893.7,68.9L900.4,68.3ZM803.5,94.3L791.6,98.1L782.5,102.2L792.1,99.3ZM986.0,50.1L981.0,50.0L973.9,54.1L982.1,53.2Z" fill="#fff"/>
<path d="M1007.5,45.0 1007.5,47.0 1007.6,50.0 1007.7,53.0 1007.8,56.0 1007.9,59.0 1008.0,62.0 1008.0,65.0 1008.1,68.0 1008.2,71.0 1008.3,74.0 1008.4,77.0 1008.5,80.0 998.3,83.0 995.8,86.0 1002.3,89.0 1012.9,92.0 1003.6,95.0 993.4,98.0 983.3,101.0 972.5,104.0 961.6,107.0 949.8,110.0 927.1,113.0 904.3,116.0 893.3,119.0 885.7,122.0 878.1,125.0 870.8,128.0 864.4,131.0 857.6,134.0 850.6,137.0 843.6,140.0 836.5,143.0 829.5,146.0 822.4,149.0 815.3,152.0 810.2,155.0 805.6,158.0 800.9,161.0 796.2,164.0 791.4,167.0 785.4,170.0 777.8,173.0 770.2,176.0 762.5,179.0 756.9,182.0 751.9,185.0 746.9,188.0 741.6,191.0 736.3,194.0 731.0,197.0 725.6,200.0 720.3,203.0 715.0,206.0 710.1,209.0 705.2,212.0 700.3,215.0 695.3,218.0 690.3,221.0 685.3,224.0 680.8,227.0 677.2,230.0 673.4,233.0 671.5,236.0 669.4,239.0 667.3,242.0 665.2,245.0 663.1,248.0 661.0,251.0 658.7,254.0 656.3,257.0 653.9,260.0 651.5,263.0 649.2,266.0 646.8,269.0 644.4,272.0 642.0,275.0 639.7,278.0 637.3,281.0 634.9,284.0 632.5,287.0 630.2,290.0 627.8,293.0 625.4,296.0 623.0,299.0 620.6,302.0 618.1,305.0 615.6,308.0 613.0,311.0 610.5,314.0 608.0,317.0 605.5,320.0 604.5,321.2 797.0,321.2 798.0,320.0 800.3,317.0 802.6,314.0 805.0,311.0 807.3,308.0 809.7,305.0 812.0,302.0 814.3,299.0 816.7,296.0 819.0,293.0 819.4,290.0 819.8,287.0 820.2,284.0 820.6,281.0 821.0,278.0 821.5,275.0 821.9,272.0 822.9,269.0 824.2,266.0 825.6,263.0 827.2,260.0 829.1,257.0 831.0,254.0 832.9,251.0 834.8,248.0 837.5,245.0 842.2,242.0 846.9,239.0 851.5,236.0 856.1,233.0 860.8,230.0 866.8,227.0 872.8,224.0 878.9,221.0 884.9,218.0 890.9,215.0 896.8,212.0 902.8,209.0 908.7,206.0 914.7,203.0 920.9,200.0 927.1,197.0 933.3,194.0 939.5,191.0 945.5,188.0 951.2,185.0 957.0,182.0 962.8,179.0 968.6,176.0 974.8,173.0 981.0,170.0 987.2,167.0 993.4,164.0 999.3,161.0 1005.0,158.0 1010.6,155.0 1016.3,152.0 1022.0,149.0 1027.5,146.0 1033.1,143.0 1038.6,140.0 1044.2,137.0 1050.4,134.0 1056.9,131.0 1063.5,128.0 1070.0,125.0 1075.3,122.0 1080.7,119.0 1086.0,116.0 1091.3,113.0 1096.0,110.0 1100.0,107.0 1104.2,104.0 1108.4,101.0 1112.6,98.0 1115.1,95.0 1116.7,92.0 1118.4,89.0 1120.0,86.0 1121.6,83.0 1123.2,80.0 1124.7,77.0 1126.1,74.0 1127.5,71.0 1129.0,68.0 1130.4,65.0 1131.7,62.0 1133.0,59.0 1134.2,56.0 1135.5,53.0 1136.7,50.0 1138.0,47.0 1138.0,45.0Z" fill="#fb9356"/>
<path d="M589.5,320.8 795.0,320.8 726.0,353.0 672.0,353.0Z" fill="#fb9356"/>
<path d="M1038.3,47.1 1036.9,52.1 1034.2,57.2 1030.4,62.3 1026.0,67.4 1021.6,72.5 1017.7,77.5 1006.3,82.6 1003.7,87.7 1015.0,92.8 1000.7,97.9 987.5,102.9 975.6,108.0 954.3,113.1 934.6,118.2 928.9,123.3 920.7,128.3 910.2,133.4 896.2,138.5 879.9,143.6 861.7,148.7 843.6,153.7 828.7,158.8 815.4,163.9 803.9,169.0 790.4,174.1 778.6,179.1 771.7,184.2 765.2,189.3 757.6,194.4 748.8,199.5 738.7,204.5 727.9,209.6 716.7,214.7 705.3,219.8 694.7,224.9 687.1,229.9 682.4,235.0 680.5,240.1 679.5,245.2 679.2,250.3 678.6,255.3 677.5,260.4 675.7,265.5 673.3,270.6 670.5,275.7 667.4,280.7 664.1,285.8 660.5,290.9 656.5,296.0 651.9,301.1 646.8,306.1 641.7,311.2 636.6,316.3 632.0,321.2 682.4,353.0 603.0,384.8 654.0,416.5 601.3,448.2 572.9,480.0 567.1,511.8 549.6,543.5 510.1,575.2 507.3,607.0 520.8,638.8 499.2,670.5 474.2,734.0 469.6,797.5 463.9,861.0 439.7,924.5 418.2,988.0 410.7,1051.5 419.5,1115.0 409.6,1178.5 407.1,1242.0 418.1,1305.5 M1092.6,47.1 1091.4,52.1 1090.5,57.2 1089.7,62.3 1088.9,67.4 1087.9,72.5 1087.0,77.5 1083.1,82.6 1081.5,87.7 1083.9,92.8 1076.8,97.9 1066.7,102.9 1056.1,108.0 1040.7,113.1 1023.7,118.2 1012.0,123.3 999.3,128.3 986.8,133.4 974.9,138.5 964.0,143.6 953.8,148.7 944.4,153.7 936.7,158.8 929.4,163.9 922.1,169.0 913.8,174.1 906.0,179.1 899.5,184.2 892.9,189.3 885.1,194.4 876.5,199.5 867.4,204.5 858.1,209.6 848.5,214.7 838.7,219.8 829.0,224.9 820.0,229.9 813.5,235.0 807.6,240.1 801.9,245.2 799.3,250.3 797.1,255.3 794.6,260.4 792.3,265.5 789.9,270.6 788.5,275.7 787.0,280.7 785.4,285.8 783.6,290.9 780.1,296.0 775.2,301.1 770.1,306.1 764.9,311.2 759.7,316.3 754.9,321.2 713.0,353.0 600.4,384.8 654.0,416.5 603.1,448.2 568.1,480.0 553.7,511.8 538.1,543.5 515.1,575.2 516.0,607.0 488.6,638.8 506.5,670.5 471.0,734.0 456.9,797.5 459.7,861.0 431.8,924.5 432.6,988.0 415.7,1051.5 415.5,1115.0 404.2,1178.5 407.2,1242.0 402.9,1305.5 M1016.7,47.1 1014.9,52.1 1013.7,57.2 1013.2,62.3 1013.4,67.4 1014.2,72.5 1015.2,77.5 1008.0,82.6 1008.1,87.7 1019.5,92.8 1004.0,97.9 986.9,102.9 968.2,108.0 936.5,113.1 904.0,118.2 888.4,123.3 873.2,128.3 859.9,133.4 847.1,138.5 835.1,143.6 824.0,148.7 815.8,153.7 811.9,158.8 808.8,163.9 805.7,169.0 798.5,174.1 791.1,179.1 786.4,184.2 780.9,189.3 773.8,194.4 765.5,199.5 756.2,204.5 746.6,209.6 736.8,214.7 726.9,219.8 717.2,224.9 709.4,229.9 703.4,235.0 698.8,240.1 694.2,245.2 689.9,250.3 685.3,255.3 680.3,260.4 675.4,265.5 670.6,270.6 666.1,275.7 661.8,280.7 657.5,285.8 653.2,290.9 648.6,296.0 643.8,301.1 638.9,306.1 634.2,311.2 630.1,316.3 626.8,321.2 680.3,353.0 601.1,384.8 654.0,416.5 579.1,448.2 570.9,480.0 569.5,511.8 536.4,543.5 509.8,575.2 510.2,607.0 512.2,638.8 501.1,670.5 472.6,734.0 451.3,797.5 467.0,861.0 433.5,924.5 430.1,988.0 415.8,1051.5 405.3,1115.0 409.3,1178.5 407.1,1242.0 402.5,1305.5 M1016.5,47.1 1016.9,52.1 1016.9,57.2 1016.7,62.3 1016.5,67.4 1016.5,72.5 1016.8,77.5 1009.1,82.6 1009.2,87.7 1021.0,92.8 1006.8,97.9 991.4,102.9 974.8,108.0 945.7,113.1 915.6,118.2 900.9,123.3 885.9,128.3 872.4,133.4 858.8,138.5 846.3,143.6 834.8,148.7 824.7,153.7 817.9,158.8 810.7,163.9 802.7,169.0 790.1,174.1 776.9,179.1 767.2,184.2 757.4,189.3 747.0,194.4 736.3,199.5 725.1,204.5 714.0,209.6 702.8,214.7 692.3,219.8 683.8,224.9 677.3,229.9 672.2,235.0 668.6,240.1 665.0,245.2 661.5,250.3 657.6,255.3 653.6,260.4 649.6,265.5 645.5,270.6 641.5,275.7 637.5,280.7 633.5,285.8 629.5,290.9 625.4,296.0 621.4,301.1 617.1,306.1 612.9,311.2 608.6,316.3 604.5,321.2 719.7,353.0 605.5,384.8 654.0,416.5 569.0,448.2 574.4,480.0 569.0,511.8 541.4,543.5 501.2,575.2 505.5,607.0 521.6,638.8 503.7,670.5 472.3,734.0 482.2,797.5 439.5,861.0 434.0,924.5 433.4,988.0 411.3,1051.5 412.5,1115.0 406.4,1178.5 407.1,1242.0 425.6,1305.5 M1097.8,47.1 1100.0,52.1 1102.5,57.2 1105.1,62.3 1107.5,67.4 1109.5,72.5 1110.9,77.5 1110.7,82.6 1110.3,87.7 1109.6,92.8 1105.3,97.9 1096.0,102.9 1085.1,108.0 1070.2,113.1 1051.7,118.2 1035.0,123.3 1017.6,128.3 1001.3,133.4 987.2,138.5 975.8,143.6 966.1,148.7 957.9,153.7 951.5,158.8 945.2,163.9 938.1,169.0 929.7,174.1 921.3,179.1 913.6,184.2 905.3,189.3 895.9,194.4 885.9,199.5 875.5,204.5 865.4,209.6 855.3,214.7 845.5,219.8 836.0,224.9 827.0,229.9 819.9,235.0 812.7,240.1 805.0,245.2 799.9,250.3 795.1,255.3 790.1,260.4 785.9,265.5 782.5,270.6 780.9,275.7 780.2,280.7 780.5,285.8 781.8,290.9 782.4,296.0 782.3,301.1 782.4,306.1 782.2,311.2 781.1,316.3 779.0,321.2 701.8,353.0 622.8,384.8 654.0,416.5 608.7,448.2 571.2,480.0 557.7,511.8 538.9,543.5 511.9,575.2 497.9,607.0 495.4,638.8 496.2,670.5 471.5,734.0 452.2,797.5 467.9,861.0 431.9,924.5 437.1,988.0 415.0,1051.5 411.5,1115.0 413.4,1178.5 407.1,1242.0 405.3,1305.5 M1056.8,47.1 1055.4,52.1 1054.3,57.2 1053.6,62.3 1053.0,67.4 1052.7,72.5 1052.7,77.5 1047.4,82.6 1047.1,87.7 1054.4,92.8 1044.4,97.9 1032.3,102.9 1019.4,108.0 998.2,113.1 975.5,118.2 962.1,123.3 947.4,128.3 932.6,133.4 917.3,138.5 902.2,143.6 887.1,148.7 872.8,153.7 861.2,158.8 850.2,163.9 839.7,169.0 826.9,174.1 815.0,179.1 807.3,184.2 800.6,189.3 794.1,194.4 788.0,199.5 782.0,204.5 776.3,209.6 770.4,214.7 763.8,219.8 756.6,224.9 750.0,229.9 744.7,235.0 740.0,240.1 735.0,245.2 731.2,250.3 727.1,255.3 722.3,260.4 717.0,265.5 711.0,270.6 704.9,275.7 698.2,280.7 691.4,285.8 684.6,290.9 677.8,296.0 671.1,301.1 664.9,306.1 659.1,311.2 653.6,316.3 648.4,321.2 707.6,353.0 597.6,384.8 654.0,416.5 571.2,448.2 569.3,480.0 563.2,511.8 545.9,543.5 503.5,575.2 513.6,607.0 497.6,638.8 495.6,670.5 474.8,734.0 459.9,797.5 469.6,861.0 436.7,924.5 431.9,988.0 413.0,1051.5 413.4,1115.0 411.9,1178.5 407.2,1242.0 417.1,1305.5 M1138.0,47.1 1135.8,52.1 1133.7,57.2 1131.6,62.3 1129.2,67.4 1126.8,72.5 1124.4,77.5 1120.2,82.6 1114.4,87.7 1110.1,92.8 1104.4,97.9 1096.1,102.9 1088.8,108.0 1081.4,113.1 1073.5,118.2 1066.5,123.3 1057.3,128.3 1046.2,133.4 1034.6,138.5 1022.8,143.6 1010.5,148.7 998.1,153.7 986.7,158.8 975.9,163.9 965.3,169.0 955.0,174.1 945.6,179.1 937.0,184.2 928.7,189.3 920.0,194.4 911.6,199.5 903.6,204.5 896.0,209.6 888.5,214.7 880.7,219.8 871.1,224.9 860.9,229.9 853.0,235.0 845.1,240.1 837.3,245.2 833.3,250.3 830.2,255.3 827.0,260.4 824.4,265.5 822.2,270.6 820.7,275.7 817.6,280.7 814.1,285.8 810.1,290.9 804.1,296.0 796.9,301.1 790.0,306.1 783.3,311.2 776.8,316.3 770.5,321.2 724.3,353.0 613.3,384.8 654.0,416.5 589.6,448.2 572.6,480.0 524.2,511.8 547.8,543.5 516.5,575.2 498.2,607.0 500.7,638.8 500.8,670.5 473.3,734.0 460.4,797.5 462.0,861.0 442.8,924.5 418.4,988.0 413.4,1051.5 406.3,1115.0 407.1,1178.5 407.1,1242.0 388.5,1305.5 M1073.2,47.1 1071.3,52.1 1069.8,57.2 1068.7,62.3 1067.9,67.4 1067.3,72.5 1067.1,77.5 1062.8,82.6 1062.7,87.7 1068.5,92.8 1061.1,97.9 1051.9,102.9 1042.7,108.0 1028.5,113.1 1013.9,118.2 1005.9,123.3 996.5,128.3 986.4,133.4 975.9,138.5 965.1,143.6 953.6,148.7 941.6,153.7 930.3,158.8 918.7,163.9 906.4,169.0 892.4,174.1 878.7,179.1 866.8,184.2 855.2,189.3 843.2,194.4 831.3,199.5 820.0,204.5 809.7,209.6 800.4,214.7 792.0,219.8 784.6,224.9 778.9,229.9 775.4,235.0 772.4,240.1 768.8,245.2 766.5,250.3 763.3,255.3 758.8,260.4 753.4,265.5 747.3,270.6 741.3,275.7 735.1,280.7 729.1,285.8 723.5,290.9 717.6,296.0 711.8,301.1 706.5,306.1 701.5,311.2 696.5,316.3 691.2,321.2 672.7,353.0 606.7,384.8 654.0,416.5 670.7,448.2 571.9,480.0 555.5,511.8 540.7,543.5 504.1,575.2 513.1,607.0 491.0,638.8 499.5,670.5 474.1,734.0 458.1,797.5 456.6,861.0 433.8,924.5 435.4,988.0 414.4,1051.5 447.1,1115.0 413.9,1178.5 407.1,1242.0 397.4,1305.5 M1125.1,47.1 1122.1,52.1 1119.7,57.2 1117.8,62.3 1116.6,67.4 1116.1,72.5 1116.3,77.5 1116.1,82.6 1116.2,87.7 1115.8,92.8 1112.8,97.9 1105.7,102.9 1098.6,108.0 1089.1,113.1 1077.1,118.2 1065.5,123.3 1053.3,128.3 1041.5,133.4 1031.1,138.5 1022.1,143.6 1013.4,148.7 1004.5,153.7 995.7,158.8 986.4,163.9 976.0,169.0 965.1,174.1 953.9,179.1 942.6,184.2 930.8,189.3 918.1,194.4 905.3,199.5 892.6,204.5 880.5,209.6 868.6,214.7 856.9,219.8 845.3,224.9 834.3,229.9 825.8,235.0 818.1,240.1 811.1,245.2 808.3,250.3 807.1,255.3 807.0,260.4 808.6,265.5 811.3,270.6 815.8,275.7 820.6,280.7 820.0,285.8 819.3,290.9 816.7,296.0 812.7,301.1 808.8,306.1 804.8,311.2 800.9,316.3 797.0,321.2 720.9,353.0 643.1,384.8 654.0,416.5 535.3,448.2 568.5,480.0 571.4,511.8 537.1,543.5 510.5,575.2 507.8,607.0 493.3,638.8 504.7,670.5 473.8,734.0 455.5,797.5 460.3,861.0 438.1,924.5 436.6,988.0 412.3,1051.5 421.0,1115.0 404.7,1178.5 407.1,1242.0 384.5,1305.5 M1109.0,47.1 1107.8,52.1 1107.9,57.2 1108.9,62.3 1110.4,67.4 1111.9,72.5 1113.0,77.5 1112.7,82.6 1112.1,87.7 1111.2,92.8 1107.5,97.9 1099.6,102.9 1090.8,108.0 1079.7,113.1 1065.6,118.2 1051.9,123.3 1036.8,128.3 1021.9,133.4 1009.2,138.5 999.4,143.6 992.3,148.7 987.4,153.7 984.1,158.8 980.7,163.9 975.4,169.0 968.5,174.1 960.3,179.1 951.2,184.2 941.1,189.3 930.0,194.4 918.5,199.5 907.1,204.5 895.9,209.6 884.8,214.7 873.8,219.8 863.5,224.9 853.9,229.9 847.2,235.0 840.8,240.1 833.8,245.2 829.6,250.3 824.6,255.3 817.7,260.4 810.1,265.5 802.2,270.6 796.1,275.7 791.8,280.7 790.1,285.8 791.1,290.9 792.8,296.0 794.5,301.1 796.2,306.1 796.8,311.2 795.4,316.3 792.1,321.2 691.9,353.0 596.4,384.8 654.0,416.5 621.9,448.2 573.9,480.0 556.8,511.8 552.0,543.5 511.1,575.2 503.0,607.0 504.7,638.8 503.2,670.5 471.2,734.0 459.0,797.5 450.7,861.0 435.0,924.5 418.8,988.0 418.0,1051.5 416.4,1115.0 414.9,1178.5 407.1,1242.0 398.7,1305.5 M1083.4,47.1 1080.9,52.1 1078.2,57.2 1075.5,62.3 1072.7,67.4 1069.9,72.5 1067.3,77.5 1060.0,82.6 1056.4,87.7 1059.4,92.8 1046.3,97.9 1030.5,102.9 1013.7,108.0 988.7,113.1 963.4,118.2 950.9,123.3 939.7,128.3 930.7,133.4 922.7,138.5 915.9,143.6 909.6,148.7 903.3,153.7 897.9,158.8 891.1,163.9 882.3,169.0 869.8,174.1 856.4,179.1 844.7,184.2 833.4,189.3 822.2,194.4 811.9,199.5 802.7,204.5 794.5,209.6 786.6,214.7 778.3,219.8 769.4,224.9 760.9,229.9 753.8,235.0 747.4,240.1 741.2,245.2 737.3,250.3 734.5,255.3 732.6,260.4 732.0,265.5 732.2,270.6 733.5,275.7 734.7,280.7 735.5,285.8 735.5,290.9 733.6,296.0 729.9,301.1 725.6,306.1 720.8,311.2 715.8,316.3 711.0,321.2 689.5,353.0 612.3,384.8 654.0,416.5 576.0,448.2 574.6,480.0 564.6,511.8 551.0,543.5 507.3,575.2 520.6,607.0 493.8,638.8 496.8,670.5 471.1,734.0 456.3,797.5 464.7,861.0 434.4,924.5 419.5,988.0 414.6,1051.5 423.1,1115.0 414.5,1178.5 407.2,1242.0 400.4,1305.5 M1017.7,47.1 1013.2,52.1 1009.6,57.2 1008.0,62.3 1008.1,67.4 1008.3,72.5 1008.4,77.5 1000.4,82.6 1001.7,87.7 1015.3,92.8 1001.4,97.9 987.0,102.9 972.0,108.0 945.5,113.1 919.4,118.2 908.9,123.3 897.7,128.3 886.7,133.4 874.6,138.5 862.3,143.6 850.1,148.7 838.9,153.7 830.5,158.8 821.8,163.9 812.0,169.0 797.1,174.1 780.9,179.1 767.2,184.2 753.2,189.3 738.8,194.4 726.6,199.5 717.6,204.5 709.1,209.6 700.8,214.7 692.3,219.8 683.9,224.9 681.4,229.9 680.3,235.0 680.0,240.1 678.7,245.2 676.3,250.3 672.4,255.3 667.4,260.4 661.6,265.5 655.5,270.6 649.2,275.7 642.9,280.7 636.6,285.8 630.3,290.9 625.4,296.0 621.4,301.1 617.1,306.1 612.9,311.2 608.6,316.3 604.5,321.2 649.8,353.0 594.8,384.8 654.0,416.5 640.1,448.2 573.7,480.0 549.3,511.8 542.7,543.5 502.6,575.2 520.1,607.0 514.0,638.8 507.0,670.5 470.8,734.0 454.8,797.5 437.6,861.0 432.8,924.5 432.0,988.0 411.8,1051.5 407.5,1115.0 410.2,1178.5 407.2,1242.0 408.6,1305.5 M1088.7,47.1 1089.3,52.1 1089.4,57.2 1088.7,62.3 1087.1,67.4 1084.8,72.5 1081.7,77.5 1074.7,82.6 1070.2,87.7 1071.1,92.8 1059.6,97.9 1045.9,102.9 1032.3,108.0 1013.2,113.1 994.4,118.2 985.2,123.3 975.7,128.3 966.2,133.4 956.4,138.5 946.5,143.6 936.3,148.7 926.4,153.7 918.3,158.8 910.9,163.9 903.6,169.0 894.9,174.1 886.6,179.1 879.5,184.2 871.4,189.3 861.4,194.4 849.6,199.5 836.3,204.5 822.1,209.6 807.3,214.7 792.5,219.8 778.6,224.9 767.2,229.9 759.9,235.0 755.7,240.1 753.7,245.2 755.5,250.3 758.8,255.3 762.4,260.4 766.0,265.5 768.7,270.6 770.5,275.7 770.2,280.7 767.7,285.8 763.1,290.9 755.8,296.0 747.1,301.1 738.7,306.1 731.4,311.2 725.6,316.3 721.5,321.2 709.6,353.0 615.8,384.8 654.0,416.5 587.2,448.2 570.5,480.0 561.8,511.8 552.3,543.5 514.6,575.2 511.2,607.0 485.6,638.8 500.4,670.5 471.1,734.0 454.4,797.5 434.2,861.0 440.5,924.5 418.6,988.0 410.9,1051.5 424.5,1115.0 412.8,1178.5 407.2,1242.0 387.3,1305.5 M1073.1,47.1 1070.9,52.1 1069.4,57.2 1068.5,62.3 1068.2,67.4 1068.3,72.5 1068.7,77.5 1065.2,82.6 1065.5,87.7 1071.5,92.8 1064.9,97.9 1056.6,102.9 1048.4,108.0 1035.6,113.1 1022.2,118.2 1014.0,123.3 1003.8,128.3 992.4,133.4 980.5,138.5 968.6,143.6 956.3,148.7 944.0,153.7 932.9,158.8 921.9,163.9 910.3,169.0 897.1,174.1 884.2,179.1 873.2,184.2 862.7,189.3 852.0,194.4 841.8,199.5 832.1,204.5 823.3,209.6 814.7,214.7 806.2,219.8 797.5,224.9 789.4,229.9 783.0,235.0 776.9,240.1 770.7,245.2 766.8,250.3 763.1,255.3 759.2,260.4 755.4,265.5 751.3,270.6 747.4,275.7 742.8,280.7 737.4,285.8 731.6,290.9 724.7,296.0 717.9,301.1 712.1,306.1 707.8,311.2 705.0,316.3 703.8,321.2 692.5,353.0 611.7,384.8 654.0,416.5 666.7,448.2 571.5,480.0 558.6,511.8 541.6,543.5 504.5,575.2 499.8,607.0 520.1,638.8 500.0,670.5 473.2,734.0 452.7,797.5 446.7,861.0 432.4,924.5 436.4,988.0 417.0,1051.5 425.7,1115.0 411.0,1178.5 407.2,1242.0 390.3,1305.5 M1065.9,47.1 1060.6,52.1 1056.2,57.2 1053.3,62.3 1052.0,67.4 1052.4,72.5 1054.3,77.5 1052.0,82.6 1054.8,87.7 1063.7,92.8 1057.1,97.9 1047.7,102.9 1036.7,108.0 1018.2,113.1 996.9,118.2 982.2,123.3 965.9,128.3 949.5,133.4 933.0,138.5 917.5,143.6 902.9,148.7 890.0,153.7 880.3,158.8 871.5,163.9 862.9,169.0 851.5,174.1 839.9,179.1 830.1,184.2 819.8,189.3 808.4,194.4 796.8,199.5 785.6,204.5 775.4,209.6 766.3,214.7 758.1,219.8 750.8,224.9 745.3,229.9 741.8,235.0 739.0,240.1 735.8,245.2 733.7,250.3 731.1,255.3 728.1,260.4 725.1,265.5 722.3,270.6 720.3,275.7 718.9,280.7 718.0,285.8 717.3,290.9 715.9,296.0 713.5,301.1 710.8,306.1 707.6,311.2 704.1,316.3 700.4,321.2 702.8,353.0 615.0,384.8 654.0,416.5 560.1,448.2 572.4,480.0 514.5,511.8 543.1,543.5 508.4,575.2 510.6,607.0 465.2,638.8 505.0,670.5 474.3,734.0 456.0,797.5 431.1,861.0 438.3,924.5 419.7,988.0 419.5,1051.5 420.4,1115.0 415.1,1178.5 407.1,1242.0 399.4,1305.5 M1089.0,47.1 1087.0,52.1 1084.1,57.2 1080.9,62.3 1077.4,67.4 1074.1,72.5 1071.1,77.5 1064.1,82.6 1061.0,87.7 1064.4,92.8 1053.5,97.9 1040.4,102.9 1027.2,108.0 1007.5,113.1 988.0,118.2 978.2,123.3 968.2,128.3 958.1,133.4 947.4,138.5 936.2,143.6 924.1,148.7 911.6,153.7 900.3,158.8 888.9,163.9 877.2,169.0 863.4,174.1 850.0,179.1 839.0,184.2 828.3,189.3 817.1,194.4 805.8,199.5 794.5,204.5 783.9,209.6 773.8,214.7 764.1,219.8 755.1,224.9 748.0,229.9 743.3,235.0 739.8,240.1 736.4,245.2 734.4,250.3 732.3,255.3 729.8,260.4 727.5,265.5 725.3,270.6 723.9,275.7 722.7,280.7 721.6,285.8 720.4,290.9 717.9,296.0 714.4,301.1 710.6,306.1 706.9,311.2 703.7,316.3 701.3,321.2 687.0,353.0 598.1,384.8 654.0,416.5 565.0,448.2 565.3,480.0 555.0,511.8 537.8,543.5 502.8,575.2 497.3,607.0 490.3,638.8 506.1,670.5 472.4,734.0 457.5,797.5 449.3,861.0 435.8,924.5 420.3,988.0 417.2,1051.5 420.2,1115.0 412.1,1178.5 407.1,1242.0 391.2,1305.5 M1044.7,47.1 1046.5,52.1 1048.6,57.2 1050.7,62.3 1052.7,67.4 1054.5,72.5 1056.1,77.5 1052.4,82.6 1053.0,87.7 1059.9,92.8 1050.7,97.9 1038.9,102.9 1025.8,108.0 1004.7,113.1 981.6,118.2 967.4,123.3 952.3,128.3 937.7,133.4 923.5,138.5 910.3,143.6 897.9,148.7 886.8,153.7 878.2,158.8 869.8,163.9 860.7,169.0 848.4,174.1 835.7,179.1 824.9,184.2 813.9,189.3 802.2,194.4 790.4,199.5 778.9,204.5 768.3,209.6 758.3,214.7 748.6,219.8 739.2,224.9 731.5,229.9 725.5,235.0 720.7,240.1 715.8,245.2 712.0,250.3 708.2,255.3 704.4,260.4 700.9,265.5 697.8,270.6 695.5,275.7 693.5,280.7 692.1,285.8 691.3,290.9 690.3,296.0 689.4,301.1 688.7,306.1 688.2,311.2 687.6,316.3 686.7,321.2 676.1,353.0 671.8,384.8 654.0,416.5 619.9,448.2 566.4,480.0 572.7,511.8 548.5,543.5 509.5,575.2 516.4,607.0 510.2,638.8 507.3,670.5 473.5,734.0 452.6,797.5 452.1,861.0 434.3,924.5 430.4,988.0 416.5,1051.5 423.6,1115.0 408.8,1178.5 407.2,1242.0 410.9,1305.5 M1099.6,47.1 1095.9,52.1 1092.2,57.2 1088.9,62.3 1085.8,67.4 1083.0,72.5 1080.6,77.5 1075.0,82.6 1072.5,87.7 1075.2,92.8 1066.4,97.9 1055.4,102.9 1044.3,108.0 1028.1,113.1 1011.2,118.2 1001.3,123.3 990.4,128.3 978.9,133.4 966.8,138.5 953.9,143.6 939.7,148.7 924.7,153.7 910.7,158.8 897.1,163.9 884.1,169.0 870.5,174.1 858.7,179.1 850.6,184.2 843.7,189.3 836.7,194.4 829.9,199.5 823.2,204.5 816.8,209.6 810.4,214.7 803.7,219.8 796.5,224.9 789.2,229.9 782.9,235.0 776.2,240.1 768.7,245.2 763.0,250.3 757.4,255.3 751.7,260.4 746.5,265.5 741.7,270.6 737.9,275.7 734.2,280.7 730.6,285.8 727.0,290.9 722.4,296.0 716.9,301.1 711.0,306.1 704.7,311.2 698.2,316.3 691.6,321.2 716.2,353.0 608.5,384.8 654.0,416.5 553.3,448.2 569.1,480.0 547.3,511.8 536.7,543.5 512.5,575.2 499.3,607.0 507.8,638.8 507.7,670.5 474.2,734.0 459.2,797.5 466.1,861.0 436.1,924.5 432.4,988.0 413.7,1051.5 426.2,1115.0 406.1,1178.5 407.2,1242.0 421.0,1305.5 M1062.9,47.1 1064.2,52.1 1065.9,57.2 1067.5,62.3 1068.7,67.4 1069.2,72.5 1068.9,77.5 1063.8,82.6 1061.9,87.7 1066.0,92.8 1056.3,97.9 1044.6,102.9 1032.9,108.0 1015.3,113.1 997.0,118.2 986.5,123.3 974.6,128.3 961.8,133.4 948.4,138.5 935.1,143.6 922.1,148.7 910.0,153.7 900.3,158.8 891.3,163.9 882.4,169.0 871.3,174.1 860.4,179.1 851.4,184.2 842.4,189.3 832.5,194.4 822.4,199.5 812.2,204.5 802.1,209.6 791.9,214.7 781.3,219.8 770.4,224.9 760.4,229.9 752.2,235.0 745.2,240.1 738.7,245.2 734.5,250.3 730.7,255.3 727.1,260.4 723.7,265.5 720.0,270.6 716.4,275.7 712.2,280.7 707.4,285.8 702.3,290.9 696.2,296.0 689.6,301.1 683.0,306.1 676.6,311.2 670.6,316.3 665.1,321.2 703.8,353.0 662.2,384.8 654.0,416.5 615.2,448.2 565.2,480.0 548.8,511.8 551.4,543.5 514.8,575.2 511.5,607.0 518.5,638.8 497.9,670.5 472.0,734.0 456.1,797.5 445.9,861.0 442.3,924.5 418.0,988.0 419.9,1051.5 417.4,1115.0 393.5,1178.5 407.2,1242.0 394.0,1305.5 M1077.6,47.1 1076.9,52.1 1076.2,57.2 1075.4,62.3 1074.1,67.4 1072.4,72.5 1070.3,77.5 1063.6,82.6 1060.4,87.7 1063.6,92.8 1052.3,97.9 1039.1,102.9 1025.8,108.0 1005.9,113.1 985.7,118.2 975.3,123.3 964.4,128.3 954.0,133.4 943.8,138.5 934.4,143.6 925.6,148.7 917.7,153.7 911.6,158.8 905.3,163.9 898.1,169.0 888.2,174.1 877.7,179.1 868.0,184.2 857.8,189.3 846.7,194.4 836.0,199.5 826.4,204.5 818.6,209.6 812.4,214.7 807.3,219.8 802.7,224.9 798.6,229.9 795.4,235.0 791.2,240.1 785.1,245.2 780.1,250.3 774.0,255.3 766.8,260.4 759.3,265.5 751.7,270.6 745.1,275.7 739.0,280.7 733.6,285.8 729.0,290.9 724.2,296.0 719.3,301.1 714.5,306.1 709.8,311.2 704.8,316.3 699.5,321.2 679.4,353.0 595.8,384.8 654.0,416.5 557.7,448.2 574.2,480.0 552.5,511.8 539.2,543.5 505.6,575.2 518.7,607.0 496.8,638.8 505.3,670.5 472.6,734.0 453.6,797.5 454.1,861.0 440.1,924.5 430.9,988.0 413.2,1051.5 424.3,1115.0 411.6,1178.5 407.1,1242.0 395.5,1305.5 M1030.3,47.1 1031.9,52.1 1034.0,57.2 1036.3,62.3 1038.2,67.4 1039.8,72.5 1040.8,77.5 1034.8,82.6 1034.2,87.7 1042.2,92.8 1029.8,97.9 1015.8,102.9 1001.5,108.0 978.5,113.1 955.8,118.2 945.7,123.3 935.3,128.3 925.2,133.4 914.4,138.5 903.4,143.6 892.1,148.7 881.0,153.7 871.9,158.8 862.7,163.9 853.0,169.0 840.1,174.1 827.2,179.1 817.1,184.2 807.4,189.3 797.4,194.4 787.9,199.5 779.0,204.5 770.8,209.6 762.9,214.7 754.7,219.8 745.9,224.9 737.8,229.9 730.8,235.0 724.5,240.1 717.9,245.2 712.3,250.3 706.7,255.3 700.7,260.4 694.7,265.5 688.4,270.6 682.0,275.7 675.3,280.7 668.5,285.8 662.0,290.9 655.9,296.0 650.8,301.1 647.1,306.1 645.3,311.2 645.2,316.3 646.6,321.2 712.0,353.0 603.5,384.8 654.0,416.5 657.3,448.2 569.7,480.0 573.8,511.8 544.3,543.5 516.1,575.2 512.1,607.0 486.3,638.8 495.1,670.5 471.6,734.0 455.0,797.5 433.4,861.0 435.4,924.5 419.0,988.0 416.4,1051.5 418.5,1115.0 411.4,1178.5 407.1,1242.0 424.6,1305.5 M1015.0,47.1 1015.9,52.1 1016.8,57.2 1017.4,62.3 1017.7,67.4 1017.5,72.5 1017.2,77.5 1008.7,82.6 1008.0,87.7 1019.4,92.8 1005.0,97.9 990.2,102.9 974.8,108.0 948.1,113.1 921.2,118.2 909.4,123.3 897.1,128.3 885.4,133.4 873.4,138.5 862.4,143.6 852.5,148.7 844.7,153.7 840.6,158.8 836.9,163.9 832.3,169.0 823.3,174.1 812.8,179.1 803.5,184.2 792.6,189.3 779.4,194.4 764.9,199.5 749.5,204.5 734.3,209.6 719.7,214.7 706.1,219.8 694.1,224.9 686.2,229.9 681.9,235.0 681.1,240.1 681.6,245.2 683.1,250.3 684.3,255.3 684.4,260.4 683.2,265.5 680.3,270.6 675.9,275.7 670.2,280.7 663.4,285.8 655.8,290.9 647.7,296.0 639.2,301.1 630.7,306.1 622.7,311.2 615.8,316.3 610.6,321.2 704.9,353.0 653.8,384.8 654.0,416.5 530.7,448.2 569.9,480.0 572.2,511.8 547.4,543.5 506.0,575.2 514.4,607.0 513.2,638.8 500.5,670.5 472.9,734.0 459.7,797.5 458.7,861.0 438.8,924.5 419.4,988.0 420.1,1051.5 417.0,1115.0 410.8,1178.5 407.2,1242.0 427.8,1305.5 M1110.2,47.1 1105.2,52.1 1100.7,57.2 1097.1,62.3 1094.2,67.4 1092.1,72.5 1090.7,77.5 1087.2,82.6 1086.1,87.7 1088.4,92.8 1082.5,97.9 1073.7,102.9 1064.6,108.0 1051.9,113.1 1038.2,118.2 1029.2,123.3 1019.8,128.3 1011.0,133.4 1003.6,138.5 997.8,143.6 992.7,148.7 987.8,153.7 983.0,158.8 977.3,163.9 969.5,169.0 960.0,174.1 949.1,179.1 937.2,184.2 923.9,189.3 909.2,194.4 894.2,199.5 879.4,204.5 865.5,209.6 852.6,214.7 840.4,219.8 829.0,224.9 818.6,229.9 810.9,235.0 803.8,240.1 796.7,245.2 792.8,250.3 789.4,255.3 786.2,260.4 783.8,265.5 781.9,270.6 781.4,275.7 781.3,280.7 781.1,285.8 780.8,290.9 778.5,296.0 774.7,301.1 770.5,306.1 765.9,311.2 761.2,316.3 756.7,321.2 725.5,353.0 656.3,384.8 654.0,416.5 606.1,448.2 570.3,480.0 550.5,511.8 546.6,543.5 502.2,575.2 519.8,607.0 489.5,638.8 496.0,670.5 471.7,734.0 457.9,797.5 449.7,861.0 432.2,924.5 419.9,988.0 418.5,1051.5 447.2,1115.0 407.6,1178.5 407.1,1242.0 409.5,1305.5 M1047.5,47.1 1048.8,52.1 1049.8,57.2 1050.5,62.3 1050.7,67.4 1050.6,72.5 1050.3,77.5 1043.9,82.6 1042.4,87.7 1048.7,92.8 1036.2,97.9 1021.6,102.9 1006.1,108.0 981.7,113.1 956.9,118.2 944.6,123.3 932.5,128.3 921.4,133.4 910.1,138.5 898.9,143.6 887.1,148.7 874.9,153.7 864.1,158.8 852.4,163.9 839.7,169.0 823.6,174.1 807.7,179.1 795.5,184.2 784.4,189.3 773.8,194.4 763.9,199.5 754.5,204.5 746.0,209.6 737.9,214.7 729.9,219.8 722.4,224.9 716.9,229.9 713.6,235.0 712.1,240.1 711.1,245.2 711.3,250.3 711.6,255.3 711.4,260.4 710.9,265.5 709.6,270.6 707.9,275.7 705.2,280.7 701.8,285.8 698.0,290.9 693.3,296.0 688.4,301.1 683.8,306.1 679.5,311.2 675.6,316.3 671.7,321.2 673.8,353.0 667.1,384.8 654.0,416.5 532.1,448.2 567.7,480.0 553.0,511.8 543.8,543.5 510.7,575.2 507.0,607.0 505.6,638.8 498.1,670.5 473.1,734.0 457.7,797.5 441.8,861.0 437.9,924.5 431.5,988.0 416.1,1051.5 410.4,1115.0 412.4,1178.5 407.2,1242.0 422.2,1305.5 M1020.8,47.1 1021.9,52.1 1022.5,57.2 1022.6,62.3 1022.5,67.4 1022.2,72.5 1021.7,77.5 1013.2,82.6 1011.5,87.7 1021.2,92.8 1004.7,97.9 986.7,102.9 967.5,108.0 935.5,113.1 903.1,118.2 888.2,123.3 873.6,128.3 860.5,133.4 847.1,138.5 835.1,143.6 823.2,148.7 812.2,153.7 804.3,158.8 796.3,163.9 788.0,169.0 775.1,174.1 762.2,179.1 757.8,184.2 755.5,189.3 753.1,194.4 750.4,199.5 746.8,204.5 742.1,209.6 735.8,214.7 727.6,219.8 717.8,224.9 708.5,229.9 700.0,235.0 692.8,240.1 685.7,245.2 679.6,250.3 673.8,255.3 668.6,260.4 664.2,265.5 660.4,270.6 657.1,275.7 654.1,280.7 651.2,285.8 648.4,290.9 645.3,296.0 642.0,301.1 638.5,306.1 635.1,311.2 631.6,316.3 628.2,321.2 718.5,353.0 621.1,384.8 654.0,416.5 544.1,448.2 572.0,480.0 561.4,511.8 545.2,543.5 508.2,575.2 503.9,607.0 516.7,638.8 494.7,670.5 471.3,734.0 459.5,797.5 448.5,861.0 441.3,924.5 431.3,988.0 418.9,1051.5 425.0,1115.0 406.0,1178.5 407.1,1242.0 385.6,1305.5 M1064.6,47.1 1064.7,52.1 1064.9,57.2 1065.3,62.3 1065.5,67.4 1065.6,72.5 1065.4,77.5 1060.0,82.6 1057.9,87.7 1061.5,92.8 1049.0,97.9 1033.1,102.9 1015.8,108.0 989.6,113.1 962.2,118.2 947.2,123.3 933.2,128.3 921.6,133.4 911.0,138.5 901.6,143.6 892.6,148.7 883.8,153.7 876.2,158.8 867.5,163.9 857.5,169.0 844.3,174.1 831.4,179.1 822.1,184.2 814.0,189.3 806.4,194.4 799.3,199.5 792.1,204.5 784.7,209.6 776.2,214.7 766.2,219.8 755.0,224.9 744.4,229.9 735.4,235.0 727.7,240.1 720.7,245.2 715.6,250.3 711.1,255.3 707.0,260.4 703.2,265.5 699.5,270.6 696.2,275.7 692.8,280.7 689.5,285.8 686.3,290.9 682.8,296.0 679.2,301.1 675.6,306.1 672.4,311.2 669.4,316.3 666.8,321.2 678.2,353.0 616.2,384.8 654.0,416.5 540.0,448.2 568.9,480.0 554.4,511.8 541.0,543.5 501.6,575.2 517.9,607.0 517.6,638.8 495.4,670.5 472.2,734.0 457.3,797.5 443.6,861.0 442.1,924.5 433.7,988.0 414.8,1051.5 408.6,1115.0 409.0,1178.5 407.2,1242.0 389.2,1305.5 M1031.6,47.1 1033.9,52.1 1035.8,57.2 1037.2,62.3 1037.9,67.4 1037.9,72.5 1037.3,77.5 1029.5,82.6 1027.5,87.7 1035.4,92.8 1021.3,97.9 1006.2,102.9 990.5,108.0 964.6,113.1 938.1,118.2 924.5,123.3 909.7,128.3 894.7,133.4 878.5,138.5 862.5,143.6 847.2,148.7 833.9,153.7 825.0,158.8 817.7,163.9 811.1,169.0 801.6,174.1 792.4,179.1 786.8,184.2 781.0,189.3 773.9,194.4 765.9,199.5 756.8,204.5 747.2,209.6 736.8,214.7 725.6,219.8 713.9,224.9 703.8,229.9 695.4,235.0 688.8,240.1 682.8,245.2 677.7,250.3 672.9,255.3 668.1,260.4 663.5,265.5 658.8,270.6 654.2,275.7 649.6,280.7 645.3,285.8 641.8,290.9 639.4,296.0 638.4,301.1 639.1,306.1 641.3,311.2 644.8,316.3 649.0,321.2 714.4,353.0 598.8,384.8 654.0,416.5 594.0,448.2 567.9,480.0 550.1,511.8 537.4,543.5 504.8,575.2 500.2,607.0 502.3,638.8 507.6,670.5 471.4,734.0 458.5,797.5 438.3,861.0 436.4,924.5 434.7,988.0 417.7,1051.5 404.9,1115.0 404.0,1178.5 407.2,1242.0 423.8,1305.5 M1132.5,47.1 1131.0,52.1 1129.0,57.2 1126.7,62.3 1123.9,67.4 1121.0,72.5 1118.0,77.5 1114.2,82.6 1110.7,87.7 1108.2,92.8 1103.0,97.9 1094.4,102.9 1086.1,108.0 1076.4,113.1 1065.6,118.2 1056.3,123.3 1045.4,128.3 1033.3,133.4 1021.1,138.5 1009.1,143.6 996.9,148.7 985.2,153.7 974.9,158.8 965.8,163.9 957.3,169.0 949.4,174.1 942.6,179.1 936.6,184.2 930.4,189.3 923.1,194.4 915.2,199.5 907.0,204.5 898.9,209.6 890.7,214.7 881.3,219.8 871.1,224.9 860.9,229.9 853.0,235.0 844.5,240.1 833.6,245.2 825.6,250.3 817.6,255.3 809.3,260.4 801.6,265.5 794.7,270.6 789.7,275.7 785.8,280.7 782.9,285.8 781.1,290.9 778.8,296.0 776.2,301.1 774.2,306.1 772.4,311.2 770.5,316.3 768.3,321.2 723.2,353.0 610.9,384.8 654.0,416.5 637.7,448.2 571.7,480.0 562.5,511.8 540.0,543.5 503.2,575.2 500.7,607.0 487.9,638.8 499.7,670.5 474.7,734.0 482.4,797.5 468.7,861.0 437.4,924.5 435.0,988.0 412.5,1051.5 403.9,1115.0 408.3,1178.5 407.2,1242.0 411.8,1305.5 M1084.1,47.1 1083.0,52.1 1082.1,57.2 1081.6,62.3 1081.2,67.4 1081.1,72.5 1081.2,77.5 1078.1,82.6 1077.8,87.7 1081.6,92.8 1075.2,97.9 1066.2,102.9 1056.9,108.0 1043.5,113.1 1029.0,118.2 1019.5,123.3 1008.4,128.3 996.6,133.4 984.3,138.5 971.8,143.6 958.5,148.7 944.9,153.7 932.3,158.8 919.7,163.9 907.2,169.0 893.7,174.1 881.3,179.1 871.8,184.2 863.3,189.3 854.8,194.4 846.4,199.5 837.9,204.5 829.4,209.6 820.6,214.7 811.1,219.8 801.4,224.9 792.3,229.9 785.1,235.0 778.8,240.1 772.9,245.2 770.0,250.3 768.3,255.3 767.5,260.4 768.2,265.5 769.8,270.6 772.9,275.7 775.9,280.7 778.2,285.8 779.2,290.9 777.0,296.0 772.1,301.1 765.8,306.1 758.6,311.2 751.0,316.3 743.7,321.2 677.5,353.0 606.3,384.8 654.0,416.5 612.1,448.2 566.5,480.0 565.7,511.8 535.2,543.5 505.4,575.2 506.0,607.0 503.0,638.8 504.0,670.5 473.6,734.0 453.0,797.5 451.8,861.0 433.0,924.5 419.3,988.0 416.8,1051.5 421.7,1115.0 406.8,1178.5 407.2,1242.0 406.0,1305.5 M1017.7,47.1 1019.3,52.1 1020.4,57.2 1020.9,62.3 1020.7,67.4 1019.9,72.5 1018.7,77.5 1008.9,82.6 1006.2,87.7 1015.7,92.8 997.7,97.9 978.4,102.9 957.9,108.0 926.4,113.1 895.3,118.2 882.5,123.3 870.1,128.3 859.0,133.4 847.1,138.5 835.1,143.6 823.2,148.7 812.2,153.7 804.3,158.8 796.3,163.9 788.0,169.0 775.1,174.1 762.3,179.1 754.7,184.2 746.9,189.3 738.3,194.4 729.7,199.5 721.2,204.5 713.6,209.6 706.6,214.7 699.6,219.8 692.6,224.9 687.2,229.9 683.0,235.0 680.0,240.1 676.8,245.2 674.1,250.3 671.5,255.3 669.2,260.4 667.2,265.5 665.4,270.6 663.3,275.7 660.7,280.7 657.1,285.8 652.8,290.9 647.6,296.0 642.1,301.1 636.6,306.1 631.7,311.2 627.3,316.3 623.4,321.2 690.7,353.0 601.9,384.8 654.0,416.5 647.0,448.2 574.0,480.0 551.8,511.8 547.0,543.5 516.8,575.2 512.7,607.0 508.5,638.8 497.2,670.5 474.0,734.0 454.2,797.5 431.9,861.0 440.3,924.5 435.8,988.0 416.0,1051.5 419.2,1115.0 415.2,1178.5 407.1,1242.0 412.6,1305.5 M1019.2,47.1 1020.4,52.1 1022.4,57.2 1025.1,62.3 1028.0,67.4 1030.7,72.5 1032.8,77.5 1027.0,82.6 1026.4,87.7 1034.7,92.8 1019.9,97.9 1002.8,102.9 984.3,108.0 954.5,113.1 924.4,118.2 910.4,123.3 897.7,128.3 887.5,133.4 878.0,138.5 869.9,143.6 862.7,148.7 856.3,153.7 852.1,158.8 846.9,163.9 840.0,169.0 828.7,174.1 816.2,179.1 806.1,184.2 795.8,189.3 785.0,194.4 774.6,199.5 764.6,204.5 755.6,209.6 747.1,214.7 738.7,219.8 730.2,224.9 723.1,229.9 717.3,235.0 712.3,240.1 706.8,245.2 701.7,250.3 696.0,255.3 689.6,260.4 682.8,265.5 675.9,270.6 669.1,275.7 662.4,280.7 655.8,285.8 649.6,290.9 643.6,296.0 638.0,301.1 632.9,306.1 628.4,311.2 624.4,316.3 621.2,321.2 711.0,353.0 610.0,384.8 654.0,416.5 550.7,448.2 573.4,480.0 566.2,511.8 551.7,543.5 508.9,575.2 502.5,607.0 498.5,638.8 498.3,670.5 472.7,734.0 452.4,797.5 461.4,861.0 437.1,924.5 435.2,988.0 418.7,1051.5 447.4,1115.0 414.1,1178.5 407.2,1242.0 413.4,1305.5 M1109.8,47.1 1108.6,52.1 1108.1,57.2 1107.9,62.3 1107.8,67.4 1107.5,72.5 1106.9,77.5 1104.7,82.6 1103.0,87.7 1102.6,92.8 1097.6,97.9 1089.2,102.9 1080.8,108.0 1070.5,113.1 1059.5,118.2 1051.2,123.3 1042.5,128.3 1033.7,133.4 1026.0,138.5 1019.2,143.6 1012.3,148.7 1004.8,153.7 996.7,158.8 987.8,163.9 977.5,169.0 966.5,174.1 955.5,179.1 944.5,184.2 933.2,189.3 921.0,194.4 908.5,199.5 896.0,204.5 884.1,209.6 872.7,214.7 861.8,219.8 851.9,224.9 843.0,229.9 837.0,235.0 831.8,240.1 826.7,245.2 825.1,250.3 823.9,255.3 822.1,260.4 820.2,265.5 817.8,270.6 816.3,275.7 814.6,280.7 813.2,285.8 812.2,290.9 810.3,296.0 808.2,301.1 807.2,306.1 804.8,311.2 800.9,316.3 797.0,321.2 654.1,353.0 607.8,384.8 654.0,416.5 610.3,448.2 567.4,480.0 560.1,511.8 544.5,543.5 515.5,575.2 518.4,607.0 503.8,638.8 503.4,670.5 470.7,734.0 458.3,797.5 447.5,861.0 437.6,924.5 429.3,988.0 415.2,1051.5 422.1,1115.0 409.8,1178.5 407.1,1242.0 416.3,1305.5 M1136.9,47.1 1135.4,52.1 1133.7,57.2 1131.6,62.3 1129.2,67.4 1126.8,72.5 1124.4,77.5 1121.8,82.6 1119.1,87.7 1116.3,92.8 1112.8,97.9 1105.1,102.9 1093.2,108.0 1079.6,113.1 1064.3,118.2 1051.4,123.3 1038.8,128.3 1027.0,133.4 1016.8,138.5 1008.1,143.6 999.7,148.7 991.1,153.7 982.6,158.8 973.5,163.9 963.3,169.0 952.3,174.1 941.6,179.1 931.8,184.2 922.3,189.3 912.6,194.4 903.1,199.5 893.8,204.5 885.0,209.6 876.2,214.7 867.4,219.8 858.8,224.9 850.4,229.9 844.4,235.0 838.4,240.1 832.1,245.2 829.0,250.3 826.3,255.3 823.0,260.4 820.2,265.5 817.9,270.6 817.4,275.7 817.8,280.7 818.9,285.8 819.3,290.9 816.7,296.0 812.7,301.1 808.8,306.1 804.8,311.2 800.9,316.3 796.2,321.2 688.5,353.0 604.7,384.8 654.0,416.5 660.6,448.2 571.1,480.0 573.5,511.8 540.2,543.5 505.1,575.2 517.0,607.0 494.8,638.8 501.9,670.5 471.9,734.0 460.1,797.5 440.1,861.0 436.9,924.5 418.5,988.0 417.3,1051.5 414.5,1115.0 413.6,1178.5 407.2,1242.0 415.2,1305.5 M1055.4,47.1 1054.8,52.1 1054.0,57.2 1053.1,62.3 1052.0,67.4 1051.0,72.5 1050.2,77.5 1044.1,82.6 1043.6,87.7 1051.3,92.8 1041.3,97.9 1029.8,102.9 1017.6,108.0 997.1,113.1 974.7,118.2 960.8,123.3 944.7,128.3 927.7,133.4 909.7,138.5 891.9,143.6 874.6,148.7 858.9,153.7 847.1,158.8 836.8,163.9 827.5,169.0 815.9,174.1 805.6,179.1 799.5,184.2 794.3,189.3 789.0,194.4 783.8,199.5 778.4,204.5 772.8,209.6 766.6,214.7 759.2,219.8 750.5,224.9 741.9,229.9 733.8,235.0 726.0,240.1 717.8,245.2 711.0,250.3 704.7,255.3 699.3,260.4 695.4,265.5 692.9,270.6 691.9,275.7 691.6,280.7 691.5,285.8 690.9,290.9 689.1,296.0 686.0,301.1 682.5,306.1 678.9,311.2 675.7,316.3 673.0,321.2 686.4,353.0 609.5,384.8 654.0,416.5 538.0,448.2 568.3,480.0 570.3,511.8 550.6,543.5 506.9,575.2 508.2,607.0 511.8,638.8 501.7,670.5 473.0,734.0 451.2,797.5 457.8,861.0 434.6,924.5 420.1,988.0 412.9,1051.5 410.0,1115.0 407.9,1178.5 407.1,1242.0 401.4,1305.5 M1044.7,47.1 1042.7,52.1 1040.6,57.2 1038.6,62.3 1036.6,67.4 1034.9,72.5 1033.6,77.5 1025.7,82.6 1024.6,87.7 1033.7,92.8 1020.5,97.9 1006.1,102.9 991.0,108.0 965.8,113.1 940.2,118.2 928.5,123.3 916.8,128.3 906.4,133.4 896.3,138.5 887.2,143.6 878.8,148.7 871.3,153.7 866.0,158.8 860.2,163.9 853.2,169.0 842.4,174.1 830.8,179.1 821.0,184.2 810.5,189.3 798.8,194.4 786.5,199.5 774.1,204.5 762.1,209.6 750.8,214.7 739.8,219.8 729.5,224.9 721.1,229.9 714.5,235.0 709.1,240.1 703.4,245.2 698.3,250.3 692.7,255.3 686.8,260.4 680.6,265.5 674.3,270.6 668.0,275.7 661.7,280.7 655.8,285.8 650.9,290.9 647.1,296.0 644.9,301.1 644.4,306.1 645.3,311.2 647.2,316.3 649.7,321.2 699.9,353.0 617.3,384.8 654.0,416.5 555.9,448.2 574.8,480.0 558.1,511.8 543.4,543.5 507.6,575.2 514.9,607.0 496.2,638.8 501.4,670.5 471.9,734.0 452.0,797.5 444.1,861.0 439.9,924.5 420.8,988.0 412.7,1051.5 415.1,1115.0 413.1,1178.5 407.2,1242.0 392.0,1305.5 M1049.9,47.1 1049.2,52.1 1048.9,57.2 1049.0,62.3 1049.5,67.4 1050.5,72.5 1051.9,77.5 1048.3,82.6 1049.7,87.7 1058.2,92.8 1050.5,97.9 1040.8,102.9 1030.5,108.0 1013.5,113.1 995.5,118.2 985.2,123.3 973.7,128.3 961.9,133.4 949.9,138.5 938.1,143.6 926.3,148.7 915.0,153.7 905.5,158.8 896.3,163.9 886.7,169.0 875.1,174.1 863.6,179.1 853.9,184.2 843.8,189.3 832.5,194.4 820.6,199.5 808.5,204.5 796.7,209.6 785.4,214.7 774.6,219.8 764.7,224.9 756.7,229.9 751.1,235.0 746.8,240.1 742.5,245.2 739.8,250.3 737.0,255.3 734.0,260.4 731.2,265.5 728.6,270.6 727.1,275.7 726.0,280.7 725.3,285.8 724.8,290.9 723.3,296.0 720.8,301.1 717.7,306.1 714.0,311.2 709.8,316.3 705.1,321.2 694.8,353.0 599.6,384.8 654.0,416.5 549.3,448.2 568.7,480.0 511.5,511.8 536.0,543.5 512.2,575.2 503.6,607.0 515.4,638.8 502.4,670.5 470.9,734.0 453.3,797.5 455.7,861.0 433.2,924.5 434.0,988.0 411.5,1051.5 422.5,1115.0 393.6,1178.5 407.2,1242.0 418.9,1305.5 M1091.7,47.1 1090.3,52.1 1089.1,57.2 1088.0,62.3 1087.0,67.4 1086.1,72.5 1085.2,77.5 1081.2,82.6 1079.7,87.7 1082.2,92.8 1074.9,97.9 1064.9,102.9 1054.8,108.0 1040.8,113.1 1026.5,118.2 1018.3,123.3 1009.8,128.3 1001.4,133.4 993.6,138.5 986.1,143.6 977.8,148.7 968.2,153.7 957.7,158.8 945.4,163.9 930.8,169.0 914.0,174.1 896.8,179.1 881.3,184.2 867.2,189.3 854.3,194.4 843.4,199.5 834.8,204.5 828.4,209.6 823.4,214.7 818.8,219.8 814.1,224.9 809.3,229.9 805.5,235.0 800.9,240.1 795.2,245.2 791.7,250.3 788.2,255.3 784.7,260.4 782.0,265.5 780.2,270.6 780.2,275.7 780.8,280.7 781.7,285.8 782.3,290.9 780.6,296.0 776.5,301.1 771.0,306.1 764.2,311.2 756.3,316.3 747.8,321.2 697.6,353.0 646.2,384.8 654.0,416.5 528.0,448.2 573.0,480.0 560.7,511.8 548.7,543.5 509.1,575.2 508.7,607.0 486.8,638.8 502.8,670.5 473.0,734.0 454.0,797.5 465.6,861.0 436.3,924.5 433.0,988.0 419.3,1051.5 411.1,1115.0 406.7,1178.5 407.1,1242.0 395.0,1305.5 M1100.5,47.1 1098.5,52.1 1096.8,57.2 1095.2,62.3 1093.6,67.4 1092.2,72.5 1090.9,77.5 1087.3,82.6 1086.0,87.7 1088.3,92.8 1082.7,97.9 1074.7,102.9 1066.8,108.0 1056.2,113.1 1044.9,118.2 1037.4,123.3 1028.8,128.3 1019.7,133.4 1011.0,138.5 1002.9,143.6 994.7,148.7 986.2,153.7 977.9,158.8 969.1,163.9 959.5,169.0 949.0,174.1 938.6,179.1 928.7,184.2 918.5,189.3 907.4,194.4 896.0,199.5 884.5,204.5 873.2,209.6 861.7,214.7 849.9,219.8 837.9,224.9 826.1,229.9 816.4,235.0 807.2,240.1 798.2,245.2 792.5,250.3 787.7,255.3 783.3,260.4 779.7,265.5 776.7,270.6 775.0,275.7 773.5,280.7 772.2,285.8 770.8,290.9 767.7,296.0 763.5,301.1 759.0,306.1 754.4,311.2 749.8,316.3 745.5,321.2 700.9,353.0 619.4,384.8 654.0,416.5 599.3,448.2 565.9,480.0 565.1,511.8 544.9,543.5 503.8,575.2 506.2,607.0 509.2,638.8 505.6,670.5 473.7,734.0 455.2,797.5 457.3,861.0 440.8,924.5 429.6,988.0 411.6,1051.5 406.0,1115.0 414.3,1178.5 407.1,1242.0 392.9,1305.5 M1072.7,47.1 1071.6,52.1 1071.9,57.2 1073.4,62.3 1075.6,67.4 1077.7,72.5 1079.5,77.5 1077.1,82.6 1076.6,87.7 1079.6,92.8 1071.3,97.9 1059.8,102.9 1047.7,108.0 1030.8,113.1 1013.7,118.2 1004.4,123.3 995.1,128.3 986.2,133.4 977.2,138.5 967.8,143.6 957.0,148.7 945.1,153.7 933.2,158.8 920.9,163.9 908.4,169.0 895.1,174.1 883.2,179.1 874.4,184.2 866.9,189.3 859.6,194.4 852.4,199.5 845.1,204.5 837.3,209.6 828.6,214.7 818.9,219.8 808.5,224.9 798.7,229.9 791.5,235.0 785.7,240.1 780.9,245.2 779.5,250.3 779.2,255.3 778.9,260.4 779.0,265.5 778.8,270.6 778.9,275.7 778.0,280.7 775.7,285.8 771.6,290.9 764.4,296.0 754.8,301.1 744.6,306.1 734.7,311.2 726.4,316.3 720.5,321.2 684.9,353.0 624.1,384.8 654.0,416.5 581.1,448.2 565.8,480.0 567.7,511.8 552.7,543.5 515.8,575.2 505.1,607.0 481.2,638.8 506.7,670.5 472.5,734.0 458.8,797.5 429.7,861.0 432.6,924.5 433.2,988.0 414.0,1051.5 403.4,1115.0 408.2,1178.5 407.2,1242.0 422.8,1305.5 M1047.1,47.1 1046.6,52.1 1045.3,57.2 1043.5,62.3 1041.4,67.4 1039.5,72.5 1038.0,77.5 1030.4,82.6 1029.4,87.7 1038.3,92.8 1026.3,97.9 1012.9,102.9 998.8,108.0 975.0,113.1 950.1,118.2 937.1,123.3 923.2,128.3 909.4,133.4 895.1,138.5 881.4,143.6 868.5,148.7 857.7,153.7 850.9,158.8 845.8,163.9 841.5,169.0 835.0,174.1 828.7,179.1 824.6,184.2 819.3,189.3 811.4,194.4 801.2,199.5 788.7,204.5 774.8,209.6 759.6,214.7 743.6,219.8 727.6,224.9 713.9,229.9 703.1,235.0 695.2,240.1 689.2,245.2 685.4,250.3 682.7,255.3 680.8,260.4 679.4,265.5 678.1,270.6 676.9,275.7 675.3,280.7 673.7,285.8 672.0,290.9 670.0,296.0 667.8,301.1 665.1,306.1 661.7,311.2 657.4,316.3 651.9,321.2 698.5,353.0 626.6,384.8 654.0,416.5 596.6,448.2 566.9,480.0 520.6,511.8 542.1,543.5 511.8,575.2 498.9,607.0 510.6,638.8 505.9,670.5 473.9,734.0 453.8,797.5 442.7,861.0 442.6,924.5 420.7,988.0 420.3,1051.5 416.0,1115.0 405.8,1178.5 407.2,1242.0 428.3,1305.5 M1015.7,47.1 1017.0,52.1 1018.2,57.2 1019.3,62.3 1020.2,67.4 1020.9,72.5 1021.3,77.5 1013.5,82.6 1012.3,87.7 1022.1,92.8 1005.8,97.9 988.0,102.9 968.9,108.0 937.5,113.1 906.3,118.2 893.1,123.3 881.0,128.3 870.9,133.4 860.7,138.5 850.7,143.6 840.5,148.7 830.9,153.7 823.9,158.8 816.8,163.9 809.5,169.0 799.0,174.1 789.3,179.1 784.1,184.2 779.7,189.3 775.1,194.4 770.1,199.5 764.4,204.5 758.0,209.6 750.2,214.7 740.7,219.8 729.8,224.9 719.1,229.9 709.2,235.0 700.3,240.1 691.4,245.2 683.3,250.3 675.4,255.3 668.1,260.4 661.5,265.5 655.8,270.6 651.3,275.7 647.9,280.7 645.6,285.8 644.4,290.9 643.9,296.0 643.7,301.1 643.4,306.1 642.9,311.2 641.8,316.3 639.9,321.2 717.5,353.0 625.0,384.8 654.0,416.5 591.9,448.2 565.6,480.0 564.0,511.8 549.9,543.5 501.8,575.2 501.7,607.0 501.6,638.8 496.4,670.5 472.1,734.0 455.7,797.5 453.1,861.0 434.8,924.5 437.4,988.0 411.1,1051.5 408.9,1115.0 407.3,1178.5 407.1,1242.0 408.2,1305.5 M1111.4,47.1 1109.2,52.1 1106.7,57.2 1103.5,62.3 1099.7,67.4 1095.5,72.5 1091.2,77.5 1084.4,82.6 1080.3,87.7 1081.2,92.8 1072.9,97.9 1062.8,102.9 1053.4,108.0 1040.5,113.1 1027.6,118.2 1020.6,123.3 1012.5,128.3 1003.7,133.4 994.7,138.5 985.4,143.6 975.0,148.7 963.4,153.7 951.4,158.8 938.3,163.9 923.9,169.0 908.2,174.1 893.4,179.1 881.7,184.2 872.5,189.3 865.5,194.4 861.0,199.5 858.6,204.5 857.6,209.6 856.1,214.7 852.6,219.8 845.9,224.9 835.9,229.9 824.5,235.0 811.0,240.1 796.5,245.2 785.1,250.3 775.4,255.3 767.6,260.4 762.5,265.5 759.8,270.6 759.5,275.7 760.3,280.7 761.4,285.8 762.6,290.9 762.3,296.0 761.3,301.1 760.6,306.1 760.8,311.2 761.8,316.3 763.4,321.2 681.6,353.0 626.0,384.8 654.0,416.5 651.8,448.2 567.6,480.0 506.9,511.8 549.1,543.5 511.4,575.2 517.3,607.0 500.2,638.8 494.4,670.5 473.4,734.0 456.7,797.5 432.8,861.0 438.4,924.5 430.6,988.0 412.1,1051.5 413.9,1115.0 412.7,1178.5 407.2,1242.0 414.6,1305.5 M1123.7,47.1 1124.4,52.1 1124.5,57.2 1124.1,62.3 1122.9,67.4 1120.9,72.5 1118.4,77.5 1114.6,82.6 1110.7,87.7 1107.6,92.8 1101.4,97.9 1091.8,102.9 1082.4,108.0 1071.7,113.1 1060.5,118.2 1052.4,123.3 1043.8,128.3 1034.9,133.4 1026.4,138.5 1017.9,143.6 1008.2,148.7 996.9,153.7 984.5,158.8 970.9,163.9 956.1,169.0 940.6,174.1 925.9,179.1 913.2,184.2 901.8,189.3 891.1,194.4 881.2,199.5 872.0,204.5 863.2,209.6 853.9,214.7 843.9,219.8 833.1,224.9 822.3,229.9 813.5,235.0 805.3,240.1 797.7,245.2 793.9,250.3 791.4,255.3 789.7,260.4 789.1,265.5 789.2,270.6 790.8,275.7 792.8,280.7 795.0,285.8 797.3,290.9 797.8,296.0 796.6,301.1 794.7,306.1 791.9,311.2 788.1,316.3 783.4,321.2 694.1,353.0 614.1,384.8 654.0,416.5 546.5,448.2 569.5,480.0 574.7,511.8 535.6,543.5 513.0,575.2 502.2,607.0 492.5,638.8 504.5,670.5 474.4,734.0 459.3,797.5 454.6,861.0 441.9,924.5 436.8,988.0 415.4,1051.5 412.9,1115.0 404.5,1178.5 407.2,1242.0 429.5,1305.5 M1028.9,47.1 1028.3,52.1 1027.5,57.2 1026.4,62.3 1025.2,67.4 1023.8,72.5 1022.5,77.5 1013.5,82.6 1011.9,87.7 1022.2,92.8 1007.5,97.9 992.5,102.9 977.7,108.0 952.8,113.1 929.3,118.2 921.5,123.3 913.7,128.3 906.5,133.4 898.4,138.5 890.1,143.6 881.2,148.7 872.1,153.7 864.4,158.8 855.6,163.9 845.4,169.0 831.1,174.1 816.1,179.1 803.6,184.2 791.0,189.3 777.9,194.4 764.8,199.5 752.1,204.5 740.4,209.6 729.4,214.7 718.9,219.8 708.8,224.9 700.9,229.9 694.9,235.0 690.6,240.1 686.4,245.2 683.0,250.3 679.7,255.3 676.4,260.4 673.3,265.5 670.2,270.6 667.2,275.7 663.8,280.7 660.1,285.8 656.0,290.9 651.4,296.0 646.6,301.1 642.0,306.1 638.0,311.2 634.9,316.3 632.7,321.2 674.9,353.0 617.9,384.8 654.0,416.5 542.3,448.2 567.2,480.0 559.3,511.8 538.6,543.5 506.7,575.2 504.5,607.0 514.8,638.8 498.9,670.5 473.8,734.0 453.1,797.5 435.0,861.0 439.3,924.5 429.9,988.0 413.9,1051.5 418.0,1115.0 405.0,1178.5 407.1,1242.0 426.5,1305.5 M1090.5,47.1 1088.7,52.1 1086.6,57.2 1084.4,62.3 1081.9,67.4 1079.2,72.5 1076.4,77.5 1069.7,82.6 1066.0,87.7 1068.1,92.8 1056.6,97.9 1042.4,102.9 1027.6,108.0 1005.9,113.1 983.6,118.2 971.7,123.3 960.3,128.3 950.3,133.4 941.4,138.5 933.8,143.6 927.0,148.7 921.1,153.7 917.0,158.8 912.5,163.9 907.1,169.0 899.5,174.1 891.5,179.1 884.3,184.2 876.2,189.3 866.4,194.4 855.6,199.5 843.8,204.5 831.7,209.6 819.3,214.7 806.7,219.8 794.3,224.9 783.2,229.9 774.5,235.0 767.0,240.1 760.0,245.2 755.5,250.3 751.5,255.3 747.6,260.4 743.9,265.5 740.3,270.6 737.2,275.7 734.0,280.7 730.5,285.8 726.8,290.9 722.1,296.0 716.7,301.1 711.2,306.1 705.7,311.2 700.2,316.3 694.9,321.2 708.2,353.0 623.7,384.8 654.0,416.5 566.6,448.2 570.0,480.0 568.3,511.8 545.5,543.5 513.6,575.2 509.1,607.0 491.6,638.8 498.6,670.5 474.8,734.0 457.1,797.5 444.9,861.0 435.6,924.5 436.1,988.0 419.1,1051.5 412.1,1115.0 411.2,1178.5 407.1,1242.0 383.4,1305.5 M1112.2,47.1 1114.0,52.1 1115.9,57.2 1117.6,62.3 1118.6,67.4 1118.8,72.5 1118.4,77.5 1116.7,82.6 1114.7,87.7 1112.6,92.8 1108.4,97.9 1100.1,102.9 1091.1,108.0 1080.1,113.1 1066.6,118.2 1054.1,123.3 1040.8,128.3 1027.9,133.4 1017.0,138.5 1008.0,143.6 1000.1,148.7 992.6,153.7 985.0,158.8 976.3,163.9 965.4,169.0 952.6,174.1 938.7,179.1 924.7,184.2 910.4,189.3 895.9,194.4 882.1,199.5 869.7,204.5 859.0,209.6 850.0,214.7 842.4,219.8 836.1,224.9 831.3,229.9 829.3,235.0 827.4,240.1 824.9,245.2 825.0,250.3 824.8,255.3 823.5,260.4 821.9,265.5 819.9,270.6 818.8,275.7 817.4,280.7 815.5,285.8 813.0,290.9 807.8,296.0 800.4,301.1 792.3,306.1 783.5,311.2 774.6,316.3 765.9,321.2 706.4,353.0 622.0,384.8 654.0,416.5 585.5,448.2 566.7,480.0 551.2,511.8 542.4,543.5 506.3,575.2 501.2,607.0 506.9,638.8 494.3,670.5 470.7,734.0 451.6,797.5 435.9,861.0 438.9,924.5 417.9,988.0 418.1,1051.5 426.6,1115.0 405.4,1178.5 407.2,1242.0 396.5,1305.5 M1097.5,47.1 1095.5,52.1 1093.6,57.2 1091.9,62.3 1090.1,67.4 1088.2,72.5 1086.4,77.5 1081.7,82.6 1079.8,87.7 1082.6,92.8 1076.3,97.9 1068.3,102.9 1061.0,108.0 1051.0,113.1 1041.0,118.2 1035.1,123.3 1027.6,128.3 1018.9,133.4 1010.1,138.5 1001.4,143.6 992.4,148.7 983.0,153.7 973.6,158.8 963.6,163.9 952.3,169.0 939.6,174.1 926.6,179.1 914.4,184.2 902.6,189.3 890.9,194.4 880.0,199.5 870.3,204.5 861.8,209.6 853.9,214.7 846.3,219.8 838.5,224.9 830.7,229.9 824.4,235.0 817.8,240.1 810.6,245.2 806.1,250.3 801.7,255.3 797.0,260.4 792.7,265.5 788.6,270.6 785.9,275.7 783.6,280.7 781.9,285.8 780.7,290.9 778.6,296.0 775.9,301.1 773.4,306.1 770.8,311.2 767.8,316.3 764.3,321.2 715.2,353.0 637.0,384.8 654.0,416.5 561.8,448.2 573.2,480.0 516.9,511.8 539.5,543.5 514.3,575.2 514.0,607.0 506.0,638.8 497.6,670.5 471.8,734.0 451.7,797.5 462.9,861.0 441.6,924.5 420.5,988.0 417.6,1051.5 409.5,1115.0 410.0,1178.5 407.1,1242.0 386.3,1305.5 M1080.7,47.1 1079.5,52.1 1079.3,57.2 1080.0,62.3 1081.2,67.4 1082.7,72.5 1083.9,77.5 1081.5,82.6 1081.1,87.7 1083.7,92.8 1076.3,97.9 1065.6,102.9 1054.0,108.0 1037.6,113.1 1019.8,118.2 1008.3,123.3 996.5,128.3 985.4,133.4 975.4,138.5 966.9,143.6 959.1,148.7 952.2,153.7 946.6,158.8 940.8,163.9 934.2,169.0 925.9,174.1 917.3,179.1 908.9,184.2 899.7,189.3 888.9,194.4 877.3,199.5 864.8,204.5 852.0,209.6 838.6,214.7 824.6,219.8 810.5,224.9 797.4,229.9 787.1,235.0 778.5,240.1 771.1,245.2 767.2,250.3 764.3,255.3 761.7,260.4 759.5,265.5 757.1,270.6 755.1,275.7 752.6,280.7 749.7,285.8 746.4,290.9 741.9,296.0 736.7,301.1 731.9,306.1 727.6,311.2 724.1,316.3 721.4,321.2 696.1,353.0 618.9,384.8 654.0,416.5 617.3,448.2 566.1,480.0 548.1,511.8 546.3,543.5 513.3,575.2 519.1,607.0 499.4,638.8 497.0,670.5 472.8,734.0 455.4,797.5 436.6,861.0 440.9,924.5 419.1,988.0 418.4,1051.5 404.3,1115.0 408.6,1178.5 407.2,1242.0 406.9,1305.5 M1070.0,47.1 1074.0,52.1 1076.0,57.2 1076.4,62.3 1075.2,67.4 1073.2,72.5 1070.9,77.5 1064.5,82.6 1062.0,87.7 1065.8,92.8 1055.5,97.9 1042.7,102.9 1029.1,108.0 1008.0,113.1 985.4,118.2 971.7,123.3 957.2,128.3 942.9,133.4 928.6,138.5 914.8,143.6 901.5,148.7 889.4,153.7 880.3,158.8 872.6,163.9 866.0,169.0 858.1,174.1 851.7,179.1 848.2,184.2 844.8,189.3 840.0,194.4 833.5,199.5 825.2,204.5 815.2,209.6 803.5,214.7 790.0,219.8 775.5,224.9 761.7,229.9 750.2,235.0 740.5,240.1 732.2,245.2 726.9,250.3 723.1,255.3 720.5,260.4 719.0,265.5 718.0,270.6 717.6,275.7 716.9,280.7 715.5,285.8 713.2,290.9 709.1,296.0 703.5,301.1 697.0,306.1 689.8,311.2 682.1,316.3 674.3,321.2 684.1,353.0 627.7,384.8 654.0,416.5 583.6,448.2 572.3,480.0 570.7,511.8 550.2,543.5 507.9,575.2 515.5,607.0 516.2,638.8 504.1,670.5 474.5,734.0 454.5,797.5 430.4,861.0 439.2,924.5 434.3,988.0 414.2,1051.5 407.9,1115.0 410.5,1178.5 407.1,1242.0 420.0,1305.5 M1007.5,47.1 1007.7,52.1 1007.8,57.2 1008.0,62.3 1008.1,67.4 1008.3,72.5 1008.8,77.5 1000.7,82.6 1000.4,87.7 1012.6,92.8 997.1,97.9 981.5,102.9 966.0,108.0 939.6,113.1 914.8,118.2 907.0,123.3 898.9,128.3 890.9,133.4 881.0,138.5 870.1,143.6 857.9,148.7 845.3,153.7 834.4,158.8 822.8,163.9 810.4,169.0 793.7,174.1 777.0,179.1 764.6,184.2 753.3,189.3 742.7,194.4 733.3,199.5 725.2,204.5 718.7,209.6 713.0,214.7 707.3,219.8 701.4,224.9 696.6,229.9 692.3,235.0 688.5,240.1 683.7,245.2 678.5,250.3 672.6,255.3 666.2,260.4 659.8,265.5 653.6,270.6 648.1,275.7 643.3,280.7 639.7,285.8 637.4,290.9 636.3,296.0 636.1,301.1 636.4,306.1 636.8,311.2 636.9,316.3 636.5,321.2 721.7,353.0 620.3,384.8 654.0,416.5 574.2,448.2 570.7,480.0 556.3,511.8 548.2,543.5 513.9,575.2 509.7,607.0 519.1,638.8 502.2,670.5 474.6,734.0 456.5,797.5 440.7,861.0 441.4,924.5 420.2,988.0 419.8,1051.5 406.8,1115.0 405.3,1178.5 407.1,1242.0 404.0,1305.5 M1008.2,47.1 1008.2,52.1 1008.3,57.2 1008.4,62.3 1008.5,67.4 1008.6,72.5 1008.6,77.5 1000.3,82.6 997.1,87.7 997.2,92.8 973.6,97.9 942.2,102.9 915.2,108.0 894.5,113.1 874.6,118.2 862.8,123.3 851.8,128.3 842.1,133.4 832.5,138.5 822.4,143.6 813.3,148.7 805.4,153.7 800.0,158.8 793.2,163.9 785.2,169.0 773.2,174.1 760.6,179.1 751.5,184.2 742.9,189.3 733.7,194.4 724.1,199.5 715.0,204.5 707.2,209.6 700.5,214.7 694.6,219.8 689.0,224.9 683.2,229.9 677.5,235.0 673.9,240.1 670.4,245.2 667.0,250.3 663.2,255.3 659.1,260.4 653.3,265.5 645.9,270.6 639.3,275.7 634.3,280.7 630.2,285.8 626.9,290.9 624.5,296.0 622.3,301.1 620.0,306.1 618.2,311.2 614.3,316.3 610.2,321.2 M1006.9,47.1 1007.2,52.1 1007.5,57.2 1007.8,62.3 1008.1,67.4 1008.3,72.5 1008.3,77.5 998.8,82.6 1000.5,87.7 1020.8,92.8 1005.9,97.9 993.1,102.9 975.2,108.0 936.2,113.1 899.8,118.2 886.8,123.3 875.3,128.3 864.8,133.4 851.1,138.5 834.1,143.6 815.8,148.7 800.6,153.7 790.1,158.8 778.8,163.9 769.4,169.0 760.4,174.1 751.2,179.1 744.1,184.2 736.7,189.3 727.9,194.4 719.8,199.5 713.9,204.5 709.9,209.6 705.5,214.7 697.8,219.8 687.8,224.9 678.8,229.9 671.3,235.0 665.3,240.1 659.7,245.2 654.4,250.3 649.5,255.3 644.8,260.4 640.8,265.5 636.9,270.6 632.6,275.7 627.9,280.7 623.3,285.8 618.9,290.9 614.2,296.0 609.3,301.1 605.4,306.1 602.4,311.2 599.0,316.3 595.3,321.2 M1008.0,47.1 1008.4,52.1 1009.0,57.2 1009.8,62.3 1010.2,67.4 1010.4,72.5 1010.5,77.5 1006.9,82.6 989.8,87.7 972.2,92.8 953.8,97.9 920.1,102.9 893.0,108.0 883.8,113.1 869.3,118.2 856.7,123.3 843.4,128.3 831.2,133.4 819.2,138.5 807.9,143.6 803.6,148.7 800.4,153.7 798.6,158.8 796.6,163.9 794.2,169.0 782.6,174.1 767.2,179.1 754.9,184.2 742.0,189.3 729.0,194.4 717.4,199.5 707.8,204.5 700.0,209.6 692.9,214.7 686.0,219.8 678.9,224.9 673.1,229.9 667.8,235.0 663.5,240.1 659.2,245.2 654.8,250.3 651.0,255.3 647.9,260.4 644.4,265.5 639.8,270.6 634.8,275.7 630.1,280.7 625.8,285.8 621.7,290.9 618.0,296.0 614.5,301.1 610.5,306.1 605.2,311.2 599.2,316.3 593.4,321.2 M1008.9,47.1 1009.2,52.1 1009.2,57.2 1009.3,62.3 1009.5,67.4 1009.7,72.5 1009.8,77.5 1003.8,82.6 994.7,87.7 998.3,92.8 985.0,97.9 965.8,102.9 942.2,108.0 906.9,113.1 875.3,118.2 855.1,123.3 843.1,128.3 831.2,133.4 819.2,138.5 807.9,143.6 799.9,148.7 792.0,153.7 784.0,158.8 771.2,163.9 758.3,169.0 749.0,174.1 740.5,179.1 732.7,184.2 725.8,189.3 718.1,194.4 710.4,199.5 703.8,204.5 697.6,209.6 690.7,214.7 682.5,219.8 673.3,224.9 666.4,229.9 661.0,235.0 656.5,240.1 652.9,245.2 649.7,250.3 647.2,255.3 644.8,260.4 641.8,265.5 638.1,270.6 634.4,275.7 630.7,280.7 626.9,285.8 623.0,290.9 619.1,296.0 614.9,301.1 610.1,306.1 605.0,311.2 600.5,316.3 596.8,321.2 M1009.4,47.1 1009.5,52.1 1009.7,57.2 1009.9,62.3 1010.0,67.4 1010.2,72.5 1010.4,77.5 1006.8,82.6 989.9,87.7 972.2,92.8 953.8,97.9 920.1,102.9 891.5,108.0 878.6,113.1 866.1,118.2 855.1,123.3 843.1,128.3 831.2,133.4 819.2,138.5 807.9,143.6 799.9,148.7 792.0,153.7 784.0,158.8 771.2,163.9 758.3,169.0 749.0,174.1 740.5,179.1 731.5,184.2 722.6,189.3 714.3,194.4 706.1,199.5 698.0,204.5 689.6,209.6 681.3,214.7 674.2,219.8 667.7,224.9 663.3,229.9 659.4,235.0 655.9,240.1 652.3,245.2 648.3,250.3 644.3,255.3 640.3,260.4 636.2,265.5 632.2,270.6 628.4,275.7 624.3,280.7 619.8,285.8 615.6,290.9 611.4,296.0 607.2,301.1 602.9,306.1 598.6,311.2 594.4,316.3 590.2,321.2 M1137.9,47.1 1135.7,52.1 1133.4,57.2 1131.3,62.3 1129.5,67.4 1127.8,72.5 1125.8,77.5 1123.5,82.6 1120.9,87.7 1117.9,92.8 1112.9,97.9 1104.2,102.9 1094.7,108.0 1084.2,113.1 1071.9,118.2 1060.3,123.3 1047.3,128.3 1032.3,133.4 1017.4,138.5 1004.6,143.6 992.4,148.7 978.6,153.7 968.2,158.8 960.3,163.9 948.5,169.0 935.9,174.1 921.6,179.1 906.1,184.2 894.9,189.3 892.1,194.4 892.6,199.5 891.4,204.5 888.3,209.6 881.5,214.7 877.4,219.8 872.4,224.9 862.6,229.9 854.2,235.0 846.8,240.1 838.4,245.2 833.4,250.3 829.8,255.3 827.5,260.4 825.6,265.5 823.4,270.6 822.3,275.7 821.0,280.7 820.0,285.8 819.5,290.9 817.0,296.0 812.8,301.1 808.6,306.1 804.6,311.2 800.6,316.3 796.2,321.2 M1142.0,47.1 1140.0,52.1 1137.9,57.2 1136.1,62.3 1134.1,67.4 1131.5,72.5 1128.7,77.5 1126.7,82.6 1125.4,87.7 1124.1,92.8 1119.7,97.9 1111.5,102.9 1106.8,108.0 1102.5,113.1 1097.2,118.2 1092.2,123.3 1086.2,128.3 1075.8,133.4 1063.5,138.5 1056.7,143.6 1056.5,148.7 1055.6,153.7 1044.8,158.8 1032.3,163.9 1025.1,169.0 1020.7,174.1 1015.5,179.1 1012.2,184.2 1004.8,189.3 980.8,194.4 955.8,199.5 941.5,204.5 929.0,209.6 922.7,214.7 913.4,219.8 896.9,224.9 878.5,229.9 867.3,235.0 857.6,240.1 847.1,245.2 841.1,250.3 836.4,255.3 830.7,260.4 825.8,265.5 822.4,270.6 821.4,275.7 820.7,280.7 820.0,285.8 819.2,290.9 816.4,296.0 812.6,301.1 809.1,306.1 805.8,311.2 802.6,316.3 799.0,321.2 M1134.6,47.1 1132.3,52.1 1130.0,57.2 1127.7,62.3 1125.4,67.4 1123.0,72.5 1120.7,77.5 1117.6,82.6 1113.9,87.7 1111.1,92.8 1108.6,97.9 1101.5,102.9 1091.7,108.0 1081.3,113.1 1069.0,118.2 1056.7,123.3 1042.4,128.3 1027.1,133.4 1013.3,138.5 1000.8,143.6 988.4,148.7 977.9,153.7 974.8,158.8 973.0,163.9 968.3,169.0 958.9,174.1 944.3,179.1 925.0,184.2 903.2,189.3 889.3,194.4 885.0,199.5 881.4,204.5 877.9,209.6 868.7,214.7 857.3,219.8 847.1,224.9 840.5,229.9 839.6,235.0 839.4,240.1 836.0,245.2 833.7,250.3 832.2,255.3 830.5,260.4 827.6,265.5 824.2,270.6 822.5,275.7 821.3,280.7 819.8,285.8 818.2,290.9 816.0,296.0 812.6,301.1 808.8,306.1 804.9,311.2 800.7,316.3 796.6,321.2 M1136.1,47.1 1134.3,52.1 1132.3,57.2 1130.2,62.3 1127.7,67.4 1124.9,72.5 1121.9,77.5 1118.7,82.6 1115.9,87.7 1113.4,92.8 1110.6,97.9 1103.8,102.9 1095.5,108.0 1086.2,113.1 1074.8,118.2 1063.1,123.3 1048.9,128.3 1031.7,133.4 1013.7,138.5 1000.8,143.6 988.4,148.7 976.4,153.7 970.1,158.8 969.0,163.9 965.1,169.0 956.7,174.1 946.2,179.1 935.2,184.2 924.6,189.3 916.6,194.4 913.4,199.5 913.0,204.5 910.8,209.6 908.9,214.7 904.2,219.8 902.4,224.9 897.1,229.9 885.9,235.0 870.4,240.1 856.3,245.2 849.8,250.3 846.5,255.3 841.1,260.4 835.0,265.5 828.3,270.6 823.3,275.7 820.9,280.7 820.0,285.8 819.5,290.9 816.6,296.0 812.6,301.1 809.1,306.1 805.6,311.2 801.9,316.3 798.1,321.2 M1134.6,47.1 1132.3,52.1 1130.0,57.2 1127.7,62.3 1125.4,67.4 1123.0,72.5 1120.7,77.5 1117.6,82.6 1113.9,87.7 1110.1,92.8 1107.0,97.9 1100.4,102.9 1091.2,108.0 1081.3,113.1 1069.0,118.2 1056.7,123.3 1042.4,128.3 1027.1,133.4 1013.3,138.5 1000.8,143.6 988.4,148.7 976.4,153.7 968.2,158.8 960.3,163.9 948.5,169.0 936.6,174.1 932.0,179.1 926.7,184.2 927.8,189.3 936.3,194.4 943.1,199.5 944.3,204.5 931.8,209.6 922.7,214.7 910.8,219.8 896.4,224.9 880.7,229.9 869.1,235.0 859.4,240.1 850.4,245.2 846.0,250.3 843.0,255.3 838.6,260.4 834.0,265.5 829.1,270.6 825.2,275.7 822.3,280.7 819.7,285.8 817.1,290.9 815.0,296.0 812.3,301.1 809.4,306.1 806.8,311.2 804.5,316.3 802.4,321.2 M1134.6,47.1 1132.6,52.1 1130.9,57.2 1129.2,62.3 1127.0,67.4 1124.5,72.5 1121.9,77.5 1118.6,82.6 1114.9,87.7 1111.2,92.8 1108.1,97.9 1101.5,102.9 1092.0,108.0 1081.3,113.1 1069.0,118.2 1056.7,123.3 1043.5,128.3 1029.5,133.4 1018.2,138.5 1010.5,143.6 999.1,148.7 987.1,153.7 978.0,158.8 969.9,163.9 961.6,169.0 951.9,174.1 939.1,179.1 926.4,184.2 920.9,189.3 928.6,194.4 937.3,199.5 929.6,204.5 918.0,209.6 914.9,214.7 916.8,219.8 914.5,224.9 899.9,229.9 881.0,235.0 862.3,240.1 848.0,245.2 842.1,250.3 838.3,255.3 834.1,260.4 830.9,265.5 827.6,270.6 824.4,275.7 822.0,280.7 819.7,285.8 817.5,290.9 815.4,296.0 812.4,301.1 809.4,306.1 806.9,311.2 804.9,316.3 803.2,321.2 M1134.6,47.1 1132.4,52.1 1130.9,57.2 1129.5,62.3 1127.7,67.4 1125.4,72.5 1122.6,77.5 1118.8,82.6 1113.9,87.7 1110.1,92.8 1107.0,97.9 1100.4,102.9 1091.2,108.0 1081.3,113.1 1069.0,118.2 1056.7,123.3 1042.4,128.3 1027.1,133.4 1013.3,138.5 1000.8,143.6 988.4,148.7 976.4,153.7 968.2,158.8 960.3,163.9 953.6,169.0 956.7,174.1 963.9,179.1 971.5,184.2 975.5,189.3 970.6,194.4 959.7,199.5 943.5,204.5 926.2,209.6 919.5,214.7 910.9,219.8 895.5,224.9 877.6,229.9 865.6,235.0 856.7,240.1 849.0,245.2 846.4,250.3 846.0,255.3 843.0,260.4 837.6,265.5 831.5,270.6 826.3,275.7 822.6,280.7 819.6,285.8 816.5,290.9 814.4,296.0 812.1,301.1 809.9,306.1 807.9,311.2 805.9,316.3 804.0,321.2 M1135.7,47.1 1133.8,52.1 1131.8,57.2 1129.9,62.3 1127.6,67.4 1124.7,72.5 1121.7,77.5 1118.0,82.6 1113.9,87.7 1110.1,92.8 1107.6,97.9 1101.8,102.9 1093.2,108.0 1083.0,113.1 1070.0,118.2 1057.2,123.3 1043.4,128.3 1029.8,133.4 1017.4,138.5 1003.0,143.6 988.4,148.7 976.4,153.7 968.2,158.8 960.3,163.9 948.5,169.0 933.7,174.1 922.6,179.1 919.2,184.2 917.6,189.3 924.3,194.4 931.8,199.5 934.5,204.5 931.0,209.6 924.0,214.7 914.9,219.8 905.9,224.9 894.7,229.9 883.5,235.0 871.4,240.1 859.3,245.2 853.0,250.3 849.0,255.3 842.9,260.4 837.2,265.5 832.6,270.6 828.0,275.7 823.7,280.7 819.3,285.8 814.9,290.9 813.3,296.0 811.8,301.1 810.3,306.1 808.4,311.2 806.1,316.3 804.3,321.2 M1134.6,47.1 1132.3,52.1 1130.0,57.2 1127.7,62.3 1125.4,67.4 1123.0,72.5 1120.7,77.5 1117.6,82.6 1113.9,87.7 1110.1,92.8 1107.0,97.9 1100.4,102.9 1091.6,108.0 1083.5,113.1 1074.5,118.2 1065.2,123.3 1052.7,128.3 1038.1,133.4 1022.0,138.5 1004.2,143.6 988.4,148.7 976.4,153.7 971.0,158.8 971.6,163.9 971.3,169.0 975.2,174.1 982.8,179.1 987.3,184.2 984.3,189.3 970.3,194.4 954.6,199.5 942.1,204.5 930.7,209.6 924.8,214.7 920.1,219.8 912.7,224.9 903.0,229.9 894.5,235.0 882.8,240.1 869.2,245.2 862.4,250.3 859.5,255.3 851.9,260.4 844.3,265.5 836.7,270.6 829.1,275.7 823.8,280.7 819.3,285.8 814.9,290.9 813.3,296.0 811.8,301.1 810.3,306.1 808.8,311.2 807.3,316.3 805.7,321.2 M1134.6,47.1 1132.3,52.1 1130.0,57.2 1127.7,62.3 1125.4,67.4 1123.0,72.5 1120.7,77.5 1118.5,82.6 1115.7,87.7 1112.8,92.8 1109.4,97.9 1102.0,102.9 1091.9,108.0 1081.3,113.1 1069.0,118.2 1056.7,123.3 1042.4,128.3 1027.1,133.4 1013.3,138.5 1000.8,143.6 988.6,148.7 982.4,153.7 975.7,158.8 966.3,163.9 960.0,169.0 954.1,174.1 951.2,179.1 950.8,184.2 957.7,189.3 965.9,194.4 963.1,199.5 954.6,204.5 945.4,209.6 943.9,214.7 937.8,219.8 926.7,224.9 909.5,229.9 894.3,235.0 882.2,240.1 871.8,245.2 864.6,250.3 859.5,255.3 851.9,260.4 844.3,265.5 836.7,270.6 829.1,275.7 823.8,280.7 819.4,285.8 815.7,290.9 814.0,296.0 812.0,301.1 810.0,306.1 808.1,311.2 806.0,316.3 803.7,321.2 M1146.0,47.0 1140.0,64.0 1131.0,80.0 1130.2,90.0 1127.5,100.8 1108.6,108.9 1110.0,119.6 1101.9,135.8 1089.8,154.6 1073.6,162.7 1060.1,161.4 1003.6,170.8 973.9,181.6 930.0,197.0 890.0,214.0 850.0,233.0 820.0,252.0 800.0,275.0 775.0,300.0 740.0,321.2 M1120.0,47.0 1112.0,80.0 1085.0,112.0 1052.0,133.1 1060.1,157.3 1054.7,168.1 1045.3,193.7 1022.4,197.7 955.1,211.2 944.3,224.7 868.9,248.9 860.8,257.0 828.5,278.6 816.7,292.0 808.0,321.2 722.0,353.0 M1100.0,47.0 1095.0,85.0 1052.0,133.0 1060.0,157.0 1054.7,160.0 976.6,178.9 952.4,208.5 909.3,222.0 879.7,230.1 868.9,248.9 840.0,262.0 815.0,285.0 780.0,321.2 M1090.0,47.0 1085.0,85.0 1049.0,136.0 1010.0,160.0 984.7,170.8 965.9,192.4 925.5,197.7 898.5,213.9 860.8,227.4 839.3,251.6 825.8,265.1 820.4,289.9 796.0,321.2 715.0,353.0 M983.9,46.0 988.0,84.0 975.0,93.0 950.0,100.0 M995.2,46.0 999.4,83.0 985.0,92.0 M998.0,46.0 1002.0,82.0 990.0,90.0" stroke="#fb9356" stroke-width="4.1"/>
<path d="M967.0,156.4L961.8,157.2L957.3,160.2L962.6,159.3ZM845.0,242.1L830.3,250.1L819.6,257.6L831.2,251.5ZM875.7,217.1L865.0,221.3L850.0,229.2L865.6,222.7ZM846.2,232.3L829.8,240.6L822.6,245.9L830.8,242.4ZM789.4,294.4L776.8,305.9L769.1,314.5L777.8,306.9ZM828.3,243.2L819.6,247.2L806.0,255.8L820.4,248.6ZM909.0,205.9L902.3,207.8L898.6,210.7L903.2,209.7ZM830.5,250.2L821.6,254.0L817.4,257.5L822.6,255.7ZM871.8,210.9L864.8,212.8L851.3,221.7L866.3,215.6ZM824.3,249.0L815.7,253.3L811.6,257.2L816.8,255.0ZM834.3,225.6L825.2,229.1L809.7,238.2L826.1,231.0ZM818.2,272.1L813.0,274.4L811.1,276.4L813.7,275.7ZM821.9,239.6L815.3,242.3L805.1,249.3L816.3,243.9ZM809.8,253.5L804.0,255.9L798.9,261.7L805.9,258.4ZM914.1,196.8L908.1,197.7L903.6,201.3L909.3,200.5ZM830.6,238.7L817.0,244.9L810.4,249.2L817.7,246.2ZM817.5,243.1L814.1,244.5L810.0,248.0L814.9,245.7ZM826.9,234.0L817.8,237.8L808.8,244.0L818.8,239.7ZM922.0,188.3L913.3,189.3L906.7,192.1L913.8,191.5ZM908.6,197.9L894.1,204.4L881.9,211.4L894.8,205.7ZM879.0,206.2L870.2,208.8L864.0,212.2L870.8,210.3ZM825.0,273.6L814.6,279.2L810.9,283.4L816.1,281.4ZM838.2,231.9L833.9,232.6L830.6,236.3L835.4,235.3ZM807.5,269.6L797.5,275.7L790.6,283.1L799.3,278.0ZM841.8,246.4L827.8,253.6L816.9,261.5L829.0,255.5ZM862.7,229.0L851.8,234.4L839.6,242.0L852.4,235.5ZM813.6,264.8L798.7,274.4L789.7,283.1L800.4,276.7ZM886.4,191.4L876.6,194.8L870.4,199.9L878.1,197.6ZM783.2,299.7L775.8,305.6L765.3,318.3L777.5,307.3ZM958.1,180.3L948.0,182.6L934.0,190.3L949.3,185.7ZM932.7,107.9L918.6,113.0L907.7,120.0L919.9,115.7ZM995.3,99.2L991.6,99.9L984.5,103.8L992.2,101.3ZM725.5,204.5L719.8,207.2L714.1,213.7L721.7,209.5ZM874.3,131.7L868.0,132.8L858.9,137.0L868.6,134.7ZM689.7,225.1L674.8,234.1L665.8,241.9L676.2,236.0ZM851.1,141.7L839.3,144.7L833.0,148.6L840.3,147.3ZM672.9,247.3L667.8,249.7L665.8,253.5L669.8,252.1ZM987.3,110.1L978.9,112.8L961.1,121.1L979.5,114.2ZM657.1,276.3L649.8,284.2L638.2,299.4L650.9,285.1ZM635.4,305.2L631.1,307.8L624.4,317.0L633.1,309.7ZM803.3,172.6L797.4,175.3L794.2,179.0L798.8,177.1ZM820.5,163.2L812.5,165.9L808.6,168.9L813.4,167.7ZM746.8,198.8L731.9,206.8L723.7,214.0L733.5,209.3ZM647.6,278.8L636.9,288.0L628.8,298.7L639.0,290.0ZM987.8,102.3L970.0,106.1L962.8,109.9L970.9,109.1ZM793.9,180.8L789.4,181.3L782.9,186.5L790.9,184.2Z" fill="#c8e2ee"/>
<path d="M1065,46V66M1072.6,46V65M1080.6,46V59" stroke="#c8e2ee" stroke-width="3"/>
<path d="M1056.7,47.0 1056.7,50.0 1056.6,53.0 1056.4,56.0 1056.2,59.0 1055.5,62.0 1054.5,65.0 1053.3,68.0 1051.9,71.0 1050.1,74.0 1048.1,77.0 1045.9,80.0 1043.4,83.0 1040.6,86.0 1037.5,89.0 1034.0,92.0 1030.1,95.0 1025.6,98.0 1020.5,101.0 1015.0,104.0 1009.2,107.0 1003.0,110.0 996.6,113.0 990.0,116.0 983.2,119.0 976.3,122.0 969.3,125.0 962.3,128.0 955.4,131.0 948.4,134.0 941.5,137.0 934.6,140.0 927.8,143.0 920.9,146.0 914.0,149.0 907.0,152.0 900.0,155.0 893.0,158.0 886.1,161.0 879.1,164.0 872.3,167.0 865.6,170.0 859.2,173.0 853.0,176.0 847.0,179.0 841.2,182.0 835.4,185.0 829.8,188.0 824.1,191.0 818.5,194.0 812.9,197.0 807.4,200.0 793.5,208.0 780.4,216.0 768.3,224.0 757.2,232.0 746.7,240.0 736.8,248.0 727.6,256.0 719.2,264.0 711.2,272.0 703.5,280.0 696.0,288.0 688.7,296.0 681.5,304.0 674.5,312.0 667.3,320.0 660.2,328.0 653.4,336.0 646.9,344.0 640.5,352.0 634.3,360.0 628.3,368.0 622.6,376.0 617.2,384.0 612.1,392.0 607.1,400.0 602.3,408.0 597.5,416.0 592.8,424.0 588.0,432.0 583.2,440.0 578.3,448.0 573.5,456.0 568.8,464.0 564.2,472.0 559.7,480.0 555.4,488.0 551.1,496.0 546.9,504.0 542.7,512.0 538.6,520.0 534.7,528.0 531.0,536.0 527.5,544.0 524.1,552.0 520.9,560.0 517.7,568.0 514.7,576.0 511.9,584.0 509.2,592.0 506.5,600.0 503.9,608.0 501.4,616.0 498.9,624.0 496.5,632.0 494.1,640.0 491.8,648.0 489.4,656.0 487.1,664.0 484.8,672.0 482.5,680.0 480.3,688.0 478.2,696.0 476.1,704.0 474.1,712.0 472.2,720.0 470.4,728.0 468.7,736.0 467.0,744.0 465.4,752.0 463.7,760.0 462.1,768.0 460.5,776.0 458.8,784.0 457.2,792.0 455.6,800.0 454.0,808.0 452.4,816.0 451.0,824.0 449.7,832.0 448.4,840.0 447.1,848.0 445.9,856.0 444.6,864.0 443.4,872.0 442.1,880.0 440.8,888.0 439.4,896.0 438.2,904.0 436.9,912.0 435.6,920.0 434.5,928.0 433.3,936.0 432.2,944.0 431.1,952.0 430.0,960.0 428.9,968.0 427.7,976.0 426.5,984.0 425.2,992.0 423.9,1000.0 422.7,1008.0 421.6,1016.0 420.6,1024.0 419.7,1032.0 418.7,1040.0 417.9,1048.0 417.0,1056.0 416.1,1064.0 415.1,1072.0 414.2,1080.0 413.2,1088.0 412.3,1096.0 411.3,1104.0 410.4,1112.0 409.5,1120.0 408.6,1128.0 407.7,1136.0 406.9,1144.0 406.1,1152.0 405.2,1160.0 404.5,1168.0 403.7,1176.0 402.9,1184.0 402.2,1192.0 401.5,1200.0 400.8,1208.0 400.1,1216.0 399.4,1224.0 398.7,1232.0 398.1,1240.0 397.5,1248.0 396.9,1256.0 396.3,1264.0 395.7,1272.0 395.1,1280.0 394.6,1288.0 394.1,1296.0 393.6,1304.0 393.5,1305.4" fill="none" stroke="#000" stroke-width="4.1" stroke-linejoin="round"/>
</g>
<g fill="none" stroke="#262626" stroke-width="4.4">
<rect x="228.6" y="35.5" width="1178.9" height="1270.0"/>
<path d="M464.4,1305.5V1291.9M464.4,35.5V49.1"/><path d="M700.2,1305.5V1291.9M700.2,35.5V49.1"/><path d="M935.9,1305.5V1291.9M935.9,35.5V49.1"/><path d="M1171.7,1305.5V1291.9M1171.7,35.5V49.1"/><path d="M228.6,289.5H243.39999999999998M1407.5,289.5H1392.7"/><path d="M228.6,543.5H243.39999999999998M1407.5,543.5H1392.7"/><path d="M228.6,797.5H243.39999999999998M1407.5,797.5H1392.7"/><path d="M228.6,1051.5H243.39999999999998M1407.5,1051.5H1392.7"/>
</g>
<g><text transform="translate(228.6,1380.4) scale(1,1.025)" text-anchor="middle">1470</text><text transform="translate(464.4,1380.4) scale(1,1.025)" text-anchor="middle">1490</text><text transform="translate(700.2,1380.4) scale(1,1.025)" text-anchor="middle">1510</text><text transform="translate(935.9,1380.4) scale(1,1.025)" text-anchor="middle">1530</text><text transform="translate(1171.7,1380.4) scale(1,1.025)" text-anchor="middle">1550</text><text transform="translate(1407.5,1380.4) scale(1,1.025)" text-anchor="middle">1570</text><text transform="translate(215.0,59.0) scale(1,1.025)" text-anchor="end">0</text><text transform="translate(215.0,313.0) scale(1,1.025)" text-anchor="end">200</text><text transform="translate(215.0,567.0) scale(1,1.025)" text-anchor="end">400</text><text transform="translate(215.0,821.0) scale(1,1.025)" text-anchor="end">600</text><text transform="translate(215.0,1075.0) scale(1,1.025)" text-anchor="end">800</text><text transform="translate(215.0,1329.0) scale(1,1.025)" text-anchor="end">1000</text>
<text x="818.5" y="1456.5" text-anchor="middle">Sound speed (m/s)</text>
<text transform="translate(58.5,670.5) rotate(-90)" text-anchor="middle">Depth (m)</text>
</g>
<g class="lg">
<path d="M562.6,1014.2H813" stroke="#c8e2ee" stroke-width="4.1"/>
<path d="M562.6,1092.1H813" stroke="#fb9356" stroke-width="4.1"/>
<path d="M562.6,1170.1H813" stroke="#000" stroke-width="4.1"/>
<text x="833" y="1037.6">Traning data set</text>
<text x="833" y="1115.4">Test data set</text>
<text x="833" y="1193.2">Background profile</text>
</g>
</svg>
</body></html>
